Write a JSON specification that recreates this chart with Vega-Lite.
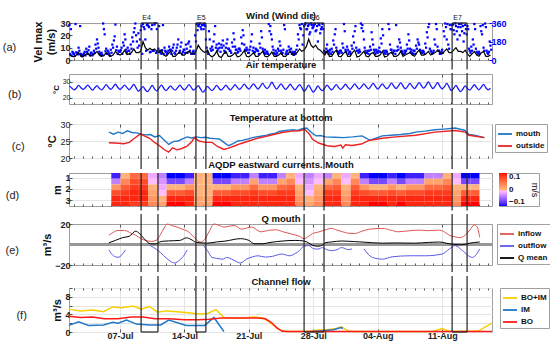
{
"$schema":"https://vega.github.io/schema/vega-lite/v6.json",
"padding":{"left":2,"top":10,"right":2,"bottom":2},
"spacing":0,
"config":{"font":"Liberation Sans","view":{"stroke":"#9e9e9e"},
"axis":{"domain":false,"tickSize":-3,"tickColor":"#555555","labelFontSize":9,"labelFontWeight":"bold","labelColor":"#222222","labelPadding":2,"titleFontSize":10,"titleFontWeight":"bold","titleColor":"#111111","titlePadding":2,"gridColor":"#e4e4e4"},
"legend":{"labelFontSize":8,"labelFontWeight":"bold","labelColor":"#111111","symbolType":"stroke","symbolSize":196,"symbolStrokeWidth":1.8,"strokeColor":"#a0a0a0","padding":2,"rowPadding":-8,"labelOffset":3}},
"datasets":{
"ev":[{"s":"2019-07-09T07:00","e":"2019-07-11T03:00","lab":"E4","lt":"2019-07-09T10:00"},{"s":"2019-07-15T06:00","e":"2019-07-16T08:00","lab":"E5","lt":"2019-07-15T09:00"},{"s":"2019-07-27T00:00","e":"2019-07-29T04:00","lab":"E6","lt":"2019-07-27T18:00"},{"s":"2019-08-12T02:00","e":"2019-08-13T17:00","lab":"E7","lt":"2019-08-12T05:00"}],
"wind":[{"t":"2019-07-01T12:00","v":4},{"t":"2019-07-01T18:00","v":3},
{"t":"2019-07-02T00:00","v":2.5},{"t":"2019-07-02T06:00","v":4},{"t":"2019-07-02T12:00","v":6},{"t":"2019-07-02T18:00","v":3},
{"t":"2019-07-03T00:00","v":3},{"t":"2019-07-03T06:00","v":4.5},{"t":"2019-07-03T12:00","v":5.5},{"t":"2019-07-03T18:00","v":3},
{"t":"2019-07-04T00:00","v":4},{"t":"2019-07-04T06:00","v":5},{"t":"2019-07-04T12:00","v":7},{"t":"2019-07-04T18:00","v":4},
{"t":"2019-07-05T00:00","v":3},{"t":"2019-07-05T06:00","v":3.5},{"t":"2019-07-05T12:00","v":6},{"t":"2019-07-05T18:00","v":4},
{"t":"2019-07-06T00:00","v":3},{"t":"2019-07-06T06:00","v":4},{"t":"2019-07-06T12:00","v":7},{"t":"2019-07-06T18:00","v":5},
{"t":"2019-07-07T00:00","v":4},{"t":"2019-07-07T06:00","v":5},{"t":"2019-07-07T12:00","v":8},{"t":"2019-07-07T18:00","v":4.5},
{"t":"2019-07-08T00:00","v":5},{"t":"2019-07-08T06:00","v":6},{"t":"2019-07-08T12:00","v":9},{"t":"2019-07-08T18:00","v":6},
{"t":"2019-07-09T00:00","v":6},{"t":"2019-07-09T06:00","v":7},{"t":"2019-07-09T12:00","v":15},{"t":"2019-07-09T18:00","v":10},
{"t":"2019-07-10T00:00","v":8},{"t":"2019-07-10T06:00","v":9.5},{"t":"2019-07-10T12:00","v":8},{"t":"2019-07-10T18:00","v":9},
{"t":"2019-07-11T00:00","v":7},{"t":"2019-07-11T06:00","v":6},{"t":"2019-07-11T12:00","v":8},{"t":"2019-07-11T18:00","v":4},
{"t":"2019-07-12T00:00","v":3},{"t":"2019-07-12T06:00","v":5},{"t":"2019-07-12T12:00","v":7},{"t":"2019-07-12T18:00","v":3},
{"t":"2019-07-13T00:00","v":3},{"t":"2019-07-13T06:00","v":5},{"t":"2019-07-13T12:00","v":6.5},{"t":"2019-07-13T18:00","v":4},
{"t":"2019-07-14T00:00","v":4},{"t":"2019-07-14T06:00","v":6},{"t":"2019-07-14T12:00","v":7},{"t":"2019-07-14T18:00","v":5},
{"t":"2019-07-15T00:00","v":5},{"t":"2019-07-15T06:00","v":7},{"t":"2019-07-15T12:00","v":12},{"t":"2019-07-15T18:00","v":9},
{"t":"2019-07-16T00:00","v":7},{"t":"2019-07-16T06:00","v":6},{"t":"2019-07-16T12:00","v":8},{"t":"2019-07-16T18:00","v":4},
{"t":"2019-07-17T00:00","v":2.5},{"t":"2019-07-17T06:00","v":4},{"t":"2019-07-17T12:00","v":7},{"t":"2019-07-17T18:00","v":3},
{"t":"2019-07-18T00:00","v":2},{"t":"2019-07-18T06:00","v":5},{"t":"2019-07-18T12:00","v":7},{"t":"2019-07-18T18:00","v":3},
{"t":"2019-07-19T00:00","v":3},{"t":"2019-07-19T06:00","v":4},{"t":"2019-07-19T12:00","v":6},{"t":"2019-07-19T18:00","v":2.5},
{"t":"2019-07-20T00:00","v":3},{"t":"2019-07-20T06:00","v":5},{"t":"2019-07-20T12:00","v":7.5},{"t":"2019-07-20T18:00","v":3},
{"t":"2019-07-21T00:00","v":2.5},{"t":"2019-07-21T06:00","v":4},{"t":"2019-07-21T12:00","v":6},{"t":"2019-07-21T18:00","v":3},
{"t":"2019-07-22T00:00","v":3},{"t":"2019-07-22T06:00","v":5},{"t":"2019-07-22T12:00","v":7},{"t":"2019-07-22T18:00","v":3},
{"t":"2019-07-23T00:00","v":2.5},{"t":"2019-07-23T06:00","v":4},{"t":"2019-07-23T12:00","v":6.5},{"t":"2019-07-23T18:00","v":3},
{"t":"2019-07-24T00:00","v":3},{"t":"2019-07-24T06:00","v":4},{"t":"2019-07-24T12:00","v":6},{"t":"2019-07-24T18:00","v":3},
{"t":"2019-07-25T00:00","v":3},{"t":"2019-07-25T06:00","v":5},{"t":"2019-07-25T12:00","v":7},{"t":"2019-07-25T18:00","v":4},
{"t":"2019-07-26T00:00","v":5},{"t":"2019-07-26T06:00","v":6},{"t":"2019-07-26T12:00","v":9},{"t":"2019-07-26T18:00","v":7},
{"t":"2019-07-27T00:00","v":8},{"t":"2019-07-27T06:00","v":11},{"t":"2019-07-27T12:00","v":17},{"t":"2019-07-27T18:00","v":12},
{"t":"2019-07-28T00:00","v":10},{"t":"2019-07-28T06:00","v":12},{"t":"2019-07-28T12:00","v":9},{"t":"2019-07-28T18:00","v":8},
{"t":"2019-07-29T00:00","v":6},{"t":"2019-07-29T06:00","v":4},{"t":"2019-07-29T12:00","v":7},{"t":"2019-07-29T18:00","v":3},
{"t":"2019-07-30T00:00","v":3},{"t":"2019-07-30T06:00","v":6},{"t":"2019-07-30T12:00","v":8},{"t":"2019-07-30T18:00","v":3},
{"t":"2019-07-31T00:00","v":2.5},{"t":"2019-07-31T06:00","v":5},{"t":"2019-07-31T12:00","v":7},{"t":"2019-07-31T18:00","v":3},
{"t":"2019-08-01T00:00","v":3},{"t":"2019-08-01T06:00","v":6},{"t":"2019-08-01T12:00","v":8},{"t":"2019-08-01T18:00","v":2.5},
{"t":"2019-08-02T00:00","v":3},{"t":"2019-08-02T06:00","v":5},{"t":"2019-08-02T12:00","v":7},{"t":"2019-08-02T18:00","v":3},
{"t":"2019-08-03T00:00","v":2.5},{"t":"2019-08-03T06:00","v":5},{"t":"2019-08-03T12:00","v":6},{"t":"2019-08-03T18:00","v":3},
{"t":"2019-08-04T00:00","v":3},{"t":"2019-08-04T06:00","v":4},{"t":"2019-08-04T12:00","v":7},{"t":"2019-08-04T18:00","v":2.5},
{"t":"2019-08-05T00:00","v":3},{"t":"2019-08-05T06:00","v":5},{"t":"2019-08-05T12:00","v":6.5},{"t":"2019-08-05T18:00","v":3},
{"t":"2019-08-06T00:00","v":3},{"t":"2019-08-06T06:00","v":4},{"t":"2019-08-06T12:00","v":7},{"t":"2019-08-06T18:00","v":3},
{"t":"2019-08-07T00:00","v":4},{"t":"2019-08-07T06:00","v":5},{"t":"2019-08-07T12:00","v":6},{"t":"2019-08-07T18:00","v":4},
{"t":"2019-08-08T00:00","v":3},{"t":"2019-08-08T06:00","v":6},{"t":"2019-08-08T12:00","v":8},{"t":"2019-08-08T18:00","v":4},
{"t":"2019-08-09T00:00","v":4},{"t":"2019-08-09T06:00","v":5},{"t":"2019-08-09T12:00","v":7},{"t":"2019-08-09T18:00","v":4},
{"t":"2019-08-10T00:00","v":5},{"t":"2019-08-10T06:00","v":6},{"t":"2019-08-10T12:00","v":8},{"t":"2019-08-10T18:00","v":6},
{"t":"2019-08-11T00:00","v":5},{"t":"2019-08-11T06:00","v":7},{"t":"2019-08-11T12:00","v":9},{"t":"2019-08-11T18:00","v":6},
{"t":"2019-08-12T00:00","v":6},{"t":"2019-08-12T06:00","v":8},{"t":"2019-08-12T12:00","v":10},{"t":"2019-08-12T18:00","v":7},
{"t":"2019-08-13T00:00","v":7},{"t":"2019-08-13T06:00","v":6},{"t":"2019-08-13T12:00","v":8},{"t":"2019-08-13T18:00","v":5},
{"t":"2019-08-14T00:00","v":3},{"t":"2019-08-14T06:00","v":5},{"t":"2019-08-14T12:00","v":7},{"t":"2019-08-14T18:00","v":4},
{"t":"2019-08-15T00:00","v":3},{"t":"2019-08-15T06:00","v":6},{"t":"2019-08-15T12:00","v":7},{"t":"2019-08-15T18:00","v":3},
{"t":"2019-08-16T00:00","v":3},{"t":"2019-08-16T06:00","v":4}],
"dir":[{"t":"2019-07-01T12:00","d":340},{"t":"2019-07-01T16:00","d":300},{"t":"2019-07-01T20:00","d":80},
{"t":"2019-07-02T00:00","d":60},{"t":"2019-07-02T04:00","d":350},{"t":"2019-07-02T08:00","d":70},{"t":"2019-07-02T12:00","d":120},{"t":"2019-07-02T16:00","d":330},{"t":"2019-07-02T20:00","d":50},
{"t":"2019-07-03T00:00","d":50},{"t":"2019-07-03T04:00","d":80},{"t":"2019-07-03T08:00","d":110},{"t":"2019-07-03T12:00","d":60},{"t":"2019-07-03T16:00","d":130},{"t":"2019-07-03T20:00","d":70},
{"t":"2019-07-04T00:00","d":45},{"t":"2019-07-04T04:00","d":90},{"t":"2019-07-04T08:00","d":150},{"t":"2019-07-04T12:00","d":200},{"t":"2019-07-04T16:00","d":120},{"t":"2019-07-04T20:00","d":60},
{"t":"2019-07-05T00:00","d":70},{"t":"2019-07-05T04:00","d":355},{"t":"2019-07-05T08:00","d":250},{"t":"2019-07-05T12:00","d":110},{"t":"2019-07-05T16:00","d":90},{"t":"2019-07-05T20:00","d":60},
{"t":"2019-07-06T00:00","d":100},{"t":"2019-07-06T04:00","d":150},{"t":"2019-07-06T08:00","d":190},{"t":"2019-07-06T12:00","d":345},{"t":"2019-07-06T16:00","d":130},{"t":"2019-07-06T20:00","d":90},
{"t":"2019-07-07T00:00","d":80},{"t":"2019-07-07T04:00","d":120},{"t":"2019-07-07T08:00","d":170},{"t":"2019-07-07T12:00","d":250},{"t":"2019-07-07T16:00","d":100},{"t":"2019-07-07T20:00","d":120},
{"t":"2019-07-08T00:00","d":90},{"t":"2019-07-08T04:00","d":150},{"t":"2019-07-08T08:00","d":220},{"t":"2019-07-08T12:00","d":270},{"t":"2019-07-08T16:00","d":355},{"t":"2019-07-08T20:00","d":180},
{"t":"2019-07-09T00:00","d":260},{"t":"2019-07-09T04:00","d":200},{"t":"2019-07-09T08:00","d":330},{"t":"2019-07-09T12:00","d":350},{"t":"2019-07-09T16:00","d":300},{"t":"2019-07-09T20:00","d":90},
{"t":"2019-07-10T00:00","d":350},{"t":"2019-07-10T04:00","d":320},{"t":"2019-07-10T08:00","d":80},{"t":"2019-07-10T12:00","d":340},{"t":"2019-07-10T16:00","d":90},{"t":"2019-07-10T20:00","d":358},
{"t":"2019-07-11T00:00","d":300},{"t":"2019-07-11T04:00","d":110},{"t":"2019-07-11T08:00","d":90},{"t":"2019-07-11T12:00","d":60},{"t":"2019-07-11T16:00","d":340},{"t":"2019-07-11T20:00","d":120},
{"t":"2019-07-12T00:00","d":80},{"t":"2019-07-12T04:00","d":70},{"t":"2019-07-12T08:00","d":130},{"t":"2019-07-12T12:00","d":100},{"t":"2019-07-12T16:00","d":90},{"t":"2019-07-12T20:00","d":150},
{"t":"2019-07-13T00:00","d":60},{"t":"2019-07-13T04:00","d":120},{"t":"2019-07-13T08:00","d":200},{"t":"2019-07-13T12:00","d":90},{"t":"2019-07-13T16:00","d":170},{"t":"2019-07-13T20:00","d":80},
{"t":"2019-07-14T00:00","d":100},{"t":"2019-07-14T04:00","d":150},{"t":"2019-07-14T08:00","d":70},{"t":"2019-07-14T12:00","d":180},{"t":"2019-07-14T16:00","d":130},{"t":"2019-07-14T20:00","d":60},
{"t":"2019-07-15T00:00","d":90},{"t":"2019-07-15T04:00","d":240},{"t":"2019-07-15T08:00","d":350},{"t":"2019-07-15T12:00","d":330},{"t":"2019-07-15T16:00","d":355},{"t":"2019-07-15T20:00","d":300},
{"t":"2019-07-16T00:00","d":340},{"t":"2019-07-16T04:00","d":350},{"t":"2019-07-16T08:00","d":200},{"t":"2019-07-16T12:00","d":80},{"t":"2019-07-16T16:00","d":280},{"t":"2019-07-16T20:00","d":110},
{"t":"2019-07-17T00:00","d":130},{"t":"2019-07-17T04:00","d":180},{"t":"2019-07-17T08:00","d":330},{"t":"2019-07-17T12:00","d":150},{"t":"2019-07-17T16:00","d":110},{"t":"2019-07-17T20:00","d":120},
{"t":"2019-07-18T00:00","d":150},{"t":"2019-07-18T04:00","d":190},{"t":"2019-07-18T08:00","d":90},{"t":"2019-07-18T12:00","d":120},{"t":"2019-07-18T16:00","d":200},{"t":"2019-07-18T20:00","d":110},
{"t":"2019-07-19T00:00","d":90},{"t":"2019-07-19T04:00","d":170},{"t":"2019-07-19T08:00","d":260},{"t":"2019-07-19T12:00","d":130},{"t":"2019-07-19T16:00","d":100},{"t":"2019-07-19T20:00","d":80},
{"t":"2019-07-20T00:00","d":110},{"t":"2019-07-20T04:00","d":220},{"t":"2019-07-20T08:00","d":290},{"t":"2019-07-20T12:00","d":150},{"t":"2019-07-20T16:00","d":90},{"t":"2019-07-20T20:00","d":100},
{"t":"2019-07-21T00:00","d":70},{"t":"2019-07-21T04:00","d":130},{"t":"2019-07-21T08:00","d":250},{"t":"2019-07-21T12:00","d":120},{"t":"2019-07-21T16:00","d":80},{"t":"2019-07-21T20:00","d":100},
{"t":"2019-07-22T00:00","d":90},{"t":"2019-07-22T04:00","d":160},{"t":"2019-07-22T08:00","d":280},{"t":"2019-07-22T12:00","d":110},{"t":"2019-07-22T16:00","d":70},{"t":"2019-07-22T20:00","d":60},
{"t":"2019-07-23T00:00","d":80},{"t":"2019-07-23T04:00","d":350},{"t":"2019-07-23T08:00","d":330},{"t":"2019-07-23T12:00","d":200},{"t":"2019-07-23T16:00","d":100},{"t":"2019-07-23T20:00","d":60},
{"t":"2019-07-24T00:00","d":50},{"t":"2019-07-24T04:00","d":110},{"t":"2019-07-24T08:00","d":180},{"t":"2019-07-24T12:00","d":90},{"t":"2019-07-24T16:00","d":70},{"t":"2019-07-24T20:00","d":340},
{"t":"2019-07-25T00:00","d":60},{"t":"2019-07-25T04:00","d":90},{"t":"2019-07-25T08:00","d":130},{"t":"2019-07-25T12:00","d":80},{"t":"2019-07-25T16:00","d":60},{"t":"2019-07-25T20:00","d":70},
{"t":"2019-07-26T00:00","d":80},{"t":"2019-07-26T04:00","d":100},{"t":"2019-07-26T08:00","d":250},{"t":"2019-07-26T12:00","d":340},{"t":"2019-07-26T16:00","d":300},{"t":"2019-07-26T20:00","d":150},
{"t":"2019-07-27T00:00","d":330},{"t":"2019-07-27T04:00","d":355},{"t":"2019-07-27T08:00","d":300},{"t":"2019-07-27T12:00","d":345},{"t":"2019-07-27T16:00","d":270},{"t":"2019-07-27T20:00","d":340},
{"t":"2019-07-28T00:00","d":320},{"t":"2019-07-28T04:00","d":350},{"t":"2019-07-28T08:00","d":290},{"t":"2019-07-28T12:00","d":180},{"t":"2019-07-28T16:00","d":340},{"t":"2019-07-28T20:00","d":300},
{"t":"2019-07-29T00:00","d":350},{"t":"2019-07-29T04:00","d":90},{"t":"2019-07-29T08:00","d":80},{"t":"2019-07-29T12:00","d":150},{"t":"2019-07-29T16:00","d":60},{"t":"2019-07-29T20:00","d":100},
{"t":"2019-07-30T00:00","d":110},{"t":"2019-07-30T04:00","d":190},{"t":"2019-07-30T08:00","d":250},{"t":"2019-07-30T12:00","d":120},{"t":"2019-07-30T16:00","d":80},{"t":"2019-07-30T20:00","d":70},
{"t":"2019-07-31T00:00","d":90},{"t":"2019-07-31T04:00","d":160},{"t":"2019-07-31T08:00","d":350},{"t":"2019-07-31T12:00","d":100},{"t":"2019-07-31T16:00","d":130},{"t":"2019-07-31T20:00","d":60},
{"t":"2019-08-01T00:00","d":80},{"t":"2019-08-01T04:00","d":140},{"t":"2019-08-01T08:00","d":230},{"t":"2019-08-01T12:00","d":280},{"t":"2019-08-01T16:00","d":120},{"t":"2019-08-01T20:00","d":90},
{"t":"2019-08-02T00:00","d":100},{"t":"2019-08-02T04:00","d":355},{"t":"2019-08-02T08:00","d":340},{"t":"2019-08-02T12:00","d":200},{"t":"2019-08-02T16:00","d":90},{"t":"2019-08-02T20:00","d":70},
{"t":"2019-08-03T00:00","d":60},{"t":"2019-08-03T04:00","d":130},{"t":"2019-08-03T08:00","d":270},{"t":"2019-08-03T12:00","d":150},{"t":"2019-08-03T16:00","d":80},{"t":"2019-08-03T20:00","d":100},
{"t":"2019-08-04T00:00","d":70},{"t":"2019-08-04T04:00","d":120},{"t":"2019-08-04T08:00","d":210},{"t":"2019-08-04T12:00","d":300},{"t":"2019-08-04T16:00","d":90},{"t":"2019-08-04T20:00","d":60},
{"t":"2019-08-05T00:00","d":80},{"t":"2019-08-05T04:00","d":350},{"t":"2019-08-05T08:00","d":150},{"t":"2019-08-05T12:00","d":100},{"t":"2019-08-05T16:00","d":70},{"t":"2019-08-05T20:00","d":90},
{"t":"2019-08-06T00:00","d":340},{"t":"2019-08-06T04:00","d":130},{"t":"2019-08-06T08:00","d":200},{"t":"2019-08-06T12:00","d":120},{"t":"2019-08-06T16:00","d":80},{"t":"2019-08-06T20:00","d":60},
{"t":"2019-08-07T00:00","d":70},{"t":"2019-08-07T04:00","d":150},{"t":"2019-08-07T08:00","d":250},{"t":"2019-08-07T12:00","d":110},{"t":"2019-08-07T16:00","d":100},{"t":"2019-08-07T20:00","d":60},
{"t":"2019-08-08T00:00","d":90},{"t":"2019-08-08T04:00","d":140},{"t":"2019-08-08T08:00","d":200},{"t":"2019-08-08T12:00","d":150},{"t":"2019-08-08T16:00","d":90},{"t":"2019-08-08T20:00","d":70},
{"t":"2019-08-09T00:00","d":80},{"t":"2019-08-09T04:00","d":160},{"t":"2019-08-09T08:00","d":270},{"t":"2019-08-09T12:00","d":320},{"t":"2019-08-09T16:00","d":110},{"t":"2019-08-09T20:00","d":80},
{"t":"2019-08-10T00:00","d":70},{"t":"2019-08-10T04:00","d":200},{"t":"2019-08-10T08:00","d":350},{"t":"2019-08-10T12:00","d":130},{"t":"2019-08-10T16:00","d":90},{"t":"2019-08-10T20:00","d":60},
{"t":"2019-08-11T00:00","d":100},{"t":"2019-08-11T04:00","d":280},{"t":"2019-08-11T08:00","d":355},{"t":"2019-08-11T12:00","d":200},{"t":"2019-08-11T16:00","d":150},{"t":"2019-08-11T20:00","d":340},
{"t":"2019-08-12T00:00","d":300},{"t":"2019-08-12T04:00","d":345},{"t":"2019-08-12T08:00","d":250},{"t":"2019-08-12T12:00","d":330},{"t":"2019-08-12T16:00","d":200},{"t":"2019-08-12T20:00","d":350},
{"t":"2019-08-13T00:00","d":320},{"t":"2019-08-13T04:00","d":280},{"t":"2019-08-13T08:00","d":180},{"t":"2019-08-13T12:00","d":340},{"t":"2019-08-13T16:00","d":250},{"t":"2019-08-13T20:00","d":300},
{"t":"2019-08-14T00:00","d":90},{"t":"2019-08-14T04:00","d":130},{"t":"2019-08-14T08:00","d":200},{"t":"2019-08-14T12:00","d":350},{"t":"2019-08-14T16:00","d":110},{"t":"2019-08-14T20:00","d":70},
{"t":"2019-08-15T00:00","d":80},{"t":"2019-08-15T04:00","d":330},{"t":"2019-08-15T08:00","d":250},{"t":"2019-08-15T12:00","d":120},{"t":"2019-08-15T16:00","d":355},{"t":"2019-08-15T20:00","d":90},
{"t":"2019-08-16T00:00","d":60},{"t":"2019-08-16T04:00","d":180},{"t":"2019-08-16T08:00","d":100},
{"t":"2019-07-01T14:00","d":60},{"t":"2019-07-01T18:00","d":45},{"t":"2019-07-01T22:00","d":70},
{"t":"2019-07-02T02:00","d":40},{"t":"2019-07-02T06:00","d":75},{"t":"2019-07-02T10:00","d":55},{"t":"2019-07-02T14:00","d":90},{"t":"2019-07-02T18:00","d":60},{"t":"2019-07-02T22:00","d":35},
{"t":"2019-07-03T02:00","d":65},{"t":"2019-07-03T06:00","d":45},{"t":"2019-07-03T10:00","d":80},{"t":"2019-07-03T14:00","d":95},{"t":"2019-07-03T18:00","d":50},{"t":"2019-07-03T22:00","d":70},
{"t":"2019-07-04T02:00","d":55},{"t":"2019-07-04T06:00","d":70},{"t":"2019-07-04T10:00","d":110},{"t":"2019-07-04T14:00","d":160},{"t":"2019-07-04T18:00","d":80},{"t":"2019-07-04T22:00","d":45},
{"t":"2019-07-05T02:00","d":50},{"t":"2019-07-05T06:00","d":300},{"t":"2019-07-05T10:00","d":85},{"t":"2019-07-05T14:00","d":60},{"t":"2019-07-05T18:00","d":75},{"t":"2019-07-05T22:00","d":40},
{"t":"2019-07-06T02:00","d":70},{"t":"2019-07-06T06:00","d":120},{"t":"2019-07-06T10:00","d":230},{"t":"2019-07-06T14:00","d":95},{"t":"2019-07-06T18:00","d":60},{"t":"2019-07-06T22:00","d":80},
{"t":"2019-07-07T02:00","d":95},{"t":"2019-07-07T06:00","d":60},{"t":"2019-07-07T10:00","d":140},{"t":"2019-07-07T14:00","d":200},{"t":"2019-07-07T18:00","d":75},{"t":"2019-07-07T22:00","d":90},
{"t":"2019-07-08T02:00","d":60},{"t":"2019-07-08T06:00","d":110},{"t":"2019-07-08T10:00","d":180},{"t":"2019-07-08T14:00","d":310},{"t":"2019-07-08T18:00","d":240},{"t":"2019-07-08T22:00","d":120},
{"t":"2019-07-09T02:00","d":140},{"t":"2019-07-09T06:00","d":290},{"t":"2019-07-09T10:00","d":60},{"t":"2019-07-09T14:00","d":320},{"t":"2019-07-09T18:00","d":200},{"t":"2019-07-09T22:00","d":340},
{"t":"2019-07-10T02:00","d":330},{"t":"2019-07-10T06:00","d":75},{"t":"2019-07-10T10:00","d":300},{"t":"2019-07-10T14:00","d":90},{"t":"2019-07-10T18:00","d":345},{"t":"2019-07-10T22:00","d":70},
{"t":"2019-07-11T02:00","d":85},{"t":"2019-07-11T06:00","d":330},{"t":"2019-07-11T10:00","d":70},{"t":"2019-07-11T14:00","d":95},{"t":"2019-07-11T18:00","d":60},{"t":"2019-07-11T22:00","d":90},
{"t":"2019-07-12T02:00","d":55},{"t":"2019-07-12T06:00","d":90},{"t":"2019-07-12T10:00","d":100},{"t":"2019-07-12T14:00","d":60},{"t":"2019-07-12T18:00","d":120},{"t":"2019-07-12T22:00","d":70},
{"t":"2019-07-13T02:00","d":90},{"t":"2019-07-13T06:00","d":150},{"t":"2019-07-13T10:00","d":70},{"t":"2019-07-13T14:00","d":130},{"t":"2019-07-13T18:00","d":60},{"t":"2019-07-13T22:00","d":100},
{"t":"2019-07-14T02:00","d":70},{"t":"2019-07-14T06:00","d":110},{"t":"2019-07-14T10:00","d":160},{"t":"2019-07-14T14:00","d":90},{"t":"2019-07-14T18:00","d":60},{"t":"2019-07-14T22:00","d":80},
{"t":"2019-07-15T02:00","d":60},{"t":"2019-07-15T06:00","d":180},{"t":"2019-07-15T10:00","d":290},{"t":"2019-07-15T14:00","d":345},{"t":"2019-07-15T18:00","d":320},{"t":"2019-07-15T22:00","d":340},
{"t":"2019-07-16T02:00","d":300},{"t":"2019-07-16T06:00","d":330},{"t":"2019-07-16T10:00","d":120},{"t":"2019-07-16T14:00","d":60},{"t":"2019-07-16T18:00","d":200},{"t":"2019-07-16T22:00","d":90},
{"t":"2019-07-17T02:00","d":100},{"t":"2019-07-17T06:00","d":250},{"t":"2019-07-17T10:00","d":120},{"t":"2019-07-17T14:00","d":90},{"t":"2019-07-17T18:00","d":160},{"t":"2019-07-17T22:00","d":80},
{"t":"2019-07-18T02:00","d":120},{"t":"2019-07-18T06:00","d":140},{"t":"2019-07-18T10:00","d":70},{"t":"2019-07-18T14:00","d":160},{"t":"2019-07-18T18:00","d":110},{"t":"2019-07-18T22:00","d":90},
{"t":"2019-07-19T02:00","d":70},{"t":"2019-07-19T06:00","d":130},{"t":"2019-07-19T10:00","d":200},{"t":"2019-07-19T14:00","d":100},{"t":"2019-07-19T18:00","d":70},{"t":"2019-07-19T22:00","d":110},
{"t":"2019-07-20T02:00","d":90},{"t":"2019-07-20T06:00","d":160},{"t":"2019-07-20T10:00","d":240},{"t":"2019-07-20T14:00","d":100},{"t":"2019-07-20T18:00","d":120},{"t":"2019-07-20T22:00","d":70},
{"t":"2019-07-21T02:00","d":100},{"t":"2019-07-21T06:00","d":180},{"t":"2019-07-21T10:00","d":90},{"t":"2019-07-21T14:00","d":70},{"t":"2019-07-21T18:00","d":110},{"t":"2019-07-21T22:00","d":90},
{"t":"2019-07-22T02:00","d":60},{"t":"2019-07-22T06:00","d":120},{"t":"2019-07-22T10:00","d":220},{"t":"2019-07-22T14:00","d":90},{"t":"2019-07-22T18:00","d":100},{"t":"2019-07-22T22:00","d":80},
{"t":"2019-07-23T02:00","d":60},{"t":"2019-07-23T06:00","d":280},{"t":"2019-07-23T10:00","d":250},{"t":"2019-07-23T14:00","d":130},{"t":"2019-07-23T18:00","d":70},{"t":"2019-07-23T22:00","d":90},
{"t":"2019-07-24T02:00","d":70},{"t":"2019-07-24T06:00","d":90},{"t":"2019-07-24T10:00","d":140},{"t":"2019-07-24T14:00","d":60},{"t":"2019-07-24T18:00","d":100},{"t":"2019-07-24T22:00","d":300},
{"t":"2019-07-25T02:00","d":80},{"t":"2019-07-25T06:00","d":60},{"t":"2019-07-25T10:00","d":100},{"t":"2019-07-25T14:00","d":110},{"t":"2019-07-25T18:00","d":80},{"t":"2019-07-25T22:00","d":50},
{"t":"2019-07-26T02:00","d":60},{"t":"2019-07-26T06:00","d":140},{"t":"2019-07-26T10:00","d":200},{"t":"2019-07-26T14:00","d":310},{"t":"2019-07-26T18:00","d":350},{"t":"2019-07-26T22:00","d":240},
{"t":"2019-07-27T02:00","d":345},{"t":"2019-07-27T06:00","d":300},{"t":"2019-07-27T10:00","d":330},{"t":"2019-07-27T14:00","d":250},{"t":"2019-07-27T18:00","d":355},{"t":"2019-07-27T22:00","d":310},
{"t":"2019-07-28T02:00","d":340},{"t":"2019-07-28T06:00","d":280},{"t":"2019-07-28T10:00","d":330},{"t":"2019-07-28T14:00","d":350},{"t":"2019-07-28T18:00","d":260},{"t":"2019-07-28T22:00","d":320},
{"t":"2019-07-29T02:00","d":300},{"t":"2019-07-29T06:00","d":70},{"t":"2019-07-29T10:00","d":110},{"t":"2019-07-29T14:00","d":90},{"t":"2019-07-29T18:00","d":80},{"t":"2019-07-29T22:00","d":60},
{"t":"2019-07-30T02:00","d":80},{"t":"2019-07-30T06:00","d":150},{"t":"2019-07-30T10:00","d":300},{"t":"2019-07-30T14:00","d":90},{"t":"2019-07-30T18:00","d":60},{"t":"2019-07-30T22:00","d":90},
{"t":"2019-07-31T02:00","d":70},{"t":"2019-07-31T06:00","d":120},{"t":"2019-07-31T10:00","d":280},{"t":"2019-07-31T14:00","d":80},{"t":"2019-07-31T18:00","d":100},{"t":"2019-07-31T22:00","d":80},
{"t":"2019-08-01T02:00","d":60},{"t":"2019-08-01T06:00","d":110},{"t":"2019-08-01T10:00","d":170},{"t":"2019-08-01T14:00","d":330},{"t":"2019-08-01T18:00","d":90},{"t":"2019-08-01T22:00","d":70},
{"t":"2019-08-02T02:00","d":80},{"t":"2019-08-02T06:00","d":310},{"t":"2019-08-02T10:00","d":280},{"t":"2019-08-02T14:00","d":120},{"t":"2019-08-02T18:00","d":70},{"t":"2019-08-02T22:00","d":90},
{"t":"2019-08-03T02:00","d":90},{"t":"2019-08-03T06:00","d":100},{"t":"2019-08-03T10:00","d":200},{"t":"2019-08-03T14:00","d":100},{"t":"2019-08-03T18:00","d":60},{"t":"2019-08-03T22:00","d":80},
{"t":"2019-08-04T02:00","d":90},{"t":"2019-08-04T06:00","d":80},{"t":"2019-08-04T10:00","d":160},{"t":"2019-08-04T14:00","d":240},{"t":"2019-08-04T18:00","d":70},{"t":"2019-08-04T22:00","d":90},
{"t":"2019-08-05T02:00","d":60},{"t":"2019-08-05T06:00","d":300},{"t":"2019-08-05T10:00","d":100},{"t":"2019-08-05T14:00","d":70},{"t":"2019-08-05T18:00","d":90},{"t":"2019-08-05T22:00","d":60},
{"t":"2019-08-06T02:00","d":90},{"t":"2019-08-06T06:00","d":100},{"t":"2019-08-06T10:00","d":170},{"t":"2019-08-06T14:00","d":90},{"t":"2019-08-06T18:00","d":60},{"t":"2019-08-06T22:00","d":90},
{"t":"2019-08-07T02:00","d":90},{"t":"2019-08-07T06:00","d":110},{"t":"2019-08-07T10:00","d":190},{"t":"2019-08-07T14:00","d":80},{"t":"2019-08-07T18:00","d":70},{"t":"2019-08-07T22:00","d":90},
{"t":"2019-08-08T02:00","d":60},{"t":"2019-08-08T06:00","d":110},{"t":"2019-08-08T10:00","d":170},{"t":"2019-08-08T14:00","d":100},{"t":"2019-08-08T18:00","d":70},{"t":"2019-08-08T22:00","d":90},
{"t":"2019-08-09T02:00","d":60},{"t":"2019-08-09T06:00","d":120},{"t":"2019-08-09T10:00","d":220},{"t":"2019-08-09T14:00","d":350},{"t":"2019-08-09T18:00","d":90},{"t":"2019-08-09T22:00","d":60},
{"t":"2019-08-10T02:00","d":90},{"t":"2019-08-10T06:00","d":150},{"t":"2019-08-10T10:00","d":300},{"t":"2019-08-10T14:00","d":90},{"t":"2019-08-10T18:00","d":60},{"t":"2019-08-10T22:00","d":80},
{"t":"2019-08-11T02:00","d":70},{"t":"2019-08-11T06:00","d":230},{"t":"2019-08-11T10:00","d":320},{"t":"2019-08-11T14:00","d":350},{"t":"2019-08-11T18:00","d":110},{"t":"2019-08-11T22:00","d":300},
{"t":"2019-08-12T02:00","d":340},{"t":"2019-08-12T06:00","d":290},{"t":"2019-08-12T10:00","d":355},{"t":"2019-08-12T14:00","d":280},{"t":"2019-08-12T18:00","d":320},{"t":"2019-08-12T22:00","d":240},
{"t":"2019-08-13T02:00","d":350},{"t":"2019-08-13T06:00","d":330},{"t":"2019-08-13T10:00","d":260},{"t":"2019-08-13T14:00","d":300},{"t":"2019-08-13T18:00","d":330},{"t":"2019-08-13T22:00","d":110},
{"t":"2019-08-14T02:00","d":70},{"t":"2019-08-14T06:00","d":90},{"t":"2019-08-14T10:00","d":150},{"t":"2019-08-14T14:00","d":300},{"t":"2019-08-14T18:00","d":80},{"t":"2019-08-14T22:00","d":60},
{"t":"2019-08-15T02:00","d":60},{"t":"2019-08-15T06:00","d":280},{"t":"2019-08-15T10:00","d":340},{"t":"2019-08-15T14:00","d":90},{"t":"2019-08-15T18:00","d":320},{"t":"2019-08-15T22:00","d":70},
{"t":"2019-08-16T02:00","d":80},{"t":"2019-08-16T06:00","d":140}],
"air":[{"t":"2019-07-01T12:00","a":27.5},{"t":"2019-07-01T18:00","a":26.2},
{"t":"2019-07-02T00:00","a":25.0},{"t":"2019-07-02T06:00","a":26.0},{"t":"2019-07-02T12:00","a":27.8},{"t":"2019-07-02T18:00","a":26.3},
{"t":"2019-07-03T00:00","a":25.2},{"t":"2019-07-03T06:00","a":26.5},{"t":"2019-07-03T12:00","a":28.0},{"t":"2019-07-03T18:00","a":26.4},
{"t":"2019-07-04T00:00","a":24.8},{"t":"2019-07-04T06:00","a":26.2},{"t":"2019-07-04T12:00","a":27.6},{"t":"2019-07-04T18:00","a":26.0},
{"t":"2019-07-05T00:00","a":25.0},{"t":"2019-07-05T06:00","a":26.4},{"t":"2019-07-05T12:00","a":28.3},{"t":"2019-07-05T18:00","a":26.5},
{"t":"2019-07-06T00:00","a":25.3},{"t":"2019-07-06T06:00","a":26.8},{"t":"2019-07-06T12:00","a":28.5},{"t":"2019-07-06T18:00","a":26.6},
{"t":"2019-07-07T00:00","a":25.2},{"t":"2019-07-07T06:00","a":26.5},{"t":"2019-07-07T12:00","a":28.0},{"t":"2019-07-07T18:00","a":26.4},
{"t":"2019-07-08T00:00","a":25.0},{"t":"2019-07-08T06:00","a":26.6},{"t":"2019-07-08T12:00","a":28.4},{"t":"2019-07-08T18:00","a":26.2},
{"t":"2019-07-09T00:00","a":24.0},{"t":"2019-07-09T06:00","a":25.5},{"t":"2019-07-09T12:00","a":27.0},{"t":"2019-07-09T18:00","a":25.0},
{"t":"2019-07-10T00:00","a":23.8},{"t":"2019-07-10T06:00","a":25.8},{"t":"2019-07-10T12:00","a":27.8},{"t":"2019-07-10T18:00","a":25.5},
{"t":"2019-07-11T00:00","a":24.3},{"t":"2019-07-11T06:00","a":26.2},{"t":"2019-07-11T12:00","a":28.0},{"t":"2019-07-11T18:00","a":26.0},
{"t":"2019-07-12T00:00","a":24.5},{"t":"2019-07-12T06:00","a":26.0},{"t":"2019-07-12T12:00","a":27.5},{"t":"2019-07-12T18:00","a":25.8},
{"t":"2019-07-13T00:00","a":24.8},{"t":"2019-07-13T06:00","a":26.3},{"t":"2019-07-13T12:00","a":28.0},{"t":"2019-07-13T18:00","a":26.2},
{"t":"2019-07-14T00:00","a":25.0},{"t":"2019-07-14T06:00","a":26.5},{"t":"2019-07-14T12:00","a":28.3},{"t":"2019-07-14T18:00","a":26.4},
{"t":"2019-07-15T00:00","a":24.8},{"t":"2019-07-15T06:00","a":26.0},{"t":"2019-07-15T12:00","a":27.6},{"t":"2019-07-15T18:00","a":25.5},
{"t":"2019-07-16T00:00","a":23.5},{"t":"2019-07-16T06:00","a":25.0},{"t":"2019-07-16T12:00","a":27.2},{"t":"2019-07-16T18:00","a":25.6},
{"t":"2019-07-17T00:00","a":24.5},{"t":"2019-07-17T06:00","a":26.0},{"t":"2019-07-17T12:00","a":27.8},{"t":"2019-07-17T18:00","a":26.0},
{"t":"2019-07-18T00:00","a":24.8},{"t":"2019-07-18T06:00","a":26.3},{"t":"2019-07-18T12:00","a":28.0},{"t":"2019-07-18T18:00","a":26.2},
{"t":"2019-07-19T00:00","a":25.0},{"t":"2019-07-19T06:00","a":26.5},{"t":"2019-07-19T12:00","a":28.2},{"t":"2019-07-19T18:00","a":26.5},
{"t":"2019-07-20T00:00","a":25.2},{"t":"2019-07-20T06:00","a":26.8},{"t":"2019-07-20T12:00","a":28.6},{"t":"2019-07-20T18:00","a":26.8},
{"t":"2019-07-21T00:00","a":25.5},{"t":"2019-07-21T06:00","a":27.0},{"t":"2019-07-21T12:00","a":28.8},{"t":"2019-07-21T18:00","a":27.0},
{"t":"2019-07-22T00:00","a":25.5},{"t":"2019-07-22T06:00","a":27.2},{"t":"2019-07-22T12:00","a":29.0},{"t":"2019-07-22T18:00","a":27.0},
{"t":"2019-07-23T00:00","a":25.8},{"t":"2019-07-23T06:00","a":27.5},{"t":"2019-07-23T12:00","a":29.8},{"t":"2019-07-23T18:00","a":27.5},
{"t":"2019-07-24T00:00","a":25.5},{"t":"2019-07-24T06:00","a":27.0},{"t":"2019-07-24T12:00","a":28.8},{"t":"2019-07-24T18:00","a":26.8},
{"t":"2019-07-25T00:00","a":25.2},{"t":"2019-07-25T06:00","a":26.8},{"t":"2019-07-25T12:00","a":28.5},{"t":"2019-07-25T18:00","a":26.6},
{"t":"2019-07-26T00:00","a":25.0},{"t":"2019-07-26T06:00","a":26.5},{"t":"2019-07-26T12:00","a":28.3},{"t":"2019-07-26T18:00","a":26.5},
{"t":"2019-07-27T00:00","a":24.0},{"t":"2019-07-27T06:00","a":25.8},{"t":"2019-07-27T12:00","a":28.0},{"t":"2019-07-27T18:00","a":25.5},
{"t":"2019-07-28T00:00","a":23.5},{"t":"2019-07-28T06:00","a":25.2},{"t":"2019-07-28T12:00","a":27.5},{"t":"2019-07-28T18:00","a":25.6},
{"t":"2019-07-29T00:00","a":24.5},{"t":"2019-07-29T06:00","a":26.2},{"t":"2019-07-29T12:00","a":28.0},{"t":"2019-07-29T18:00","a":26.2},
{"t":"2019-07-30T00:00","a":25.0},{"t":"2019-07-30T06:00","a":26.5},{"t":"2019-07-30T12:00","a":28.3},{"t":"2019-07-30T18:00","a":26.4},
{"t":"2019-07-31T00:00","a":25.2},{"t":"2019-07-31T06:00","a":26.8},{"t":"2019-07-31T12:00","a":28.5},{"t":"2019-07-31T18:00","a":26.7},
{"t":"2019-08-01T00:00","a":25.3},{"t":"2019-08-01T06:00","a":27.0},{"t":"2019-08-01T12:00","a":28.7},{"t":"2019-08-01T18:00","a":26.9},
{"t":"2019-08-02T00:00","a":25.5},{"t":"2019-08-02T06:00","a":27.1},{"t":"2019-08-02T12:00","a":28.8},{"t":"2019-08-02T18:00","a":27.0},
{"t":"2019-08-03T00:00","a":25.6},{"t":"2019-08-03T06:00","a":27.2},{"t":"2019-08-03T12:00","a":29.0},{"t":"2019-08-03T18:00","a":27.2},
{"t":"2019-08-04T00:00","a":25.5},{"t":"2019-08-04T06:00","a":27.0},{"t":"2019-08-04T12:00","a":28.8},{"t":"2019-08-04T18:00","a":27.0},
{"t":"2019-08-05T00:00","a":25.7},{"t":"2019-08-05T06:00","a":27.3},{"t":"2019-08-05T12:00","a":29.2},{"t":"2019-08-05T18:00","a":27.3},
{"t":"2019-08-06T00:00","a":25.8},{"t":"2019-08-06T06:00","a":27.5},{"t":"2019-08-06T12:00","a":29.4},{"t":"2019-08-06T18:00","a":27.4},
{"t":"2019-08-07T00:00","a":25.6},{"t":"2019-08-07T06:00","a":27.2},{"t":"2019-08-07T12:00","a":29.0},{"t":"2019-08-07T18:00","a":27.2},
{"t":"2019-08-08T00:00","a":25.8},{"t":"2019-08-08T06:00","a":27.6},{"t":"2019-08-08T12:00","a":29.6},{"t":"2019-08-08T18:00","a":27.6},
{"t":"2019-08-09T00:00","a":26.0},{"t":"2019-08-09T06:00","a":27.8},{"t":"2019-08-09T12:00","a":30.0},{"t":"2019-08-09T18:00","a":27.7},
{"t":"2019-08-10T00:00","a":25.8},{"t":"2019-08-10T06:00","a":27.5},{"t":"2019-08-10T12:00","a":29.5},{"t":"2019-08-10T18:00","a":27.3},
{"t":"2019-08-11T00:00","a":25.5},{"t":"2019-08-11T06:00","a":27.0},{"t":"2019-08-11T12:00","a":29.0},{"t":"2019-08-11T18:00","a":26.8},
{"t":"2019-08-12T00:00","a":24.5},{"t":"2019-08-12T06:00","a":26.0},{"t":"2019-08-12T12:00","a":27.8},{"t":"2019-08-12T18:00","a":25.6},
{"t":"2019-08-13T00:00","a":23.8},{"t":"2019-08-13T06:00","a":25.5},{"t":"2019-08-13T12:00","a":27.5},{"t":"2019-08-13T18:00","a":25.8},
{"t":"2019-08-14T00:00","a":24.8},{"t":"2019-08-14T06:00","a":26.5},{"t":"2019-08-14T12:00","a":28.2},{"t":"2019-08-14T18:00","a":26.4},
{"t":"2019-08-15T00:00","a":25.0},{"t":"2019-08-15T06:00","a":26.6},{"t":"2019-08-15T12:00","a":28.4},{"t":"2019-08-15T18:00","a":26.3},
{"t":"2019-08-16T00:00","a":25.0},{"t":"2019-08-16T06:00","a":26.0}],
"bot":[{"s":"mouth","t":"2019-07-05T19:00","v":27.6},{"s":"mouth","t":"2019-07-06T07:00","v":27.0},{"s":"mouth","t":"2019-07-06T19:00","v":27.6},{"s":"mouth","t":"2019-07-07T07:00","v":27.2},{"s":"mouth","t":"2019-07-07T19:00","v":28.0},{"s":"mouth","t":"2019-07-08T07:00","v":27.5},{"s":"mouth","t":"2019-07-08T19:00","v":27.4},{"s":"mouth","t":"2019-07-09T07:00","v":27.0},{"s":"mouth","t":"2019-07-09T19:00","v":26.8},{"s":"mouth","t":"2019-07-10T07:00","v":26.9},{"s":"mouth","t":"2019-07-10T19:00","v":26.2},{"s":"mouth","t":"2019-07-11T07:00","v":26.6},{"s":"mouth","t":"2019-07-11T19:00","v":25.3},{"s":"mouth","t":"2019-07-12T07:00","v":24.0},{"s":"mouth","t":"2019-07-12T19:00","v":24.8},{"s":"mouth","t":"2019-07-13T07:00","v":25.0},{"s":"mouth","t":"2019-07-13T19:00","v":25.6},{"s":"mouth","t":"2019-07-14T07:00","v":26.2},{"s":"mouth","t":"2019-07-14T19:00","v":25.9},{"s":"mouth","t":"2019-07-15T07:00","v":26.2},{"s":"mouth","t":"2019-07-15T19:00","v":26.0},{"s":"mouth","t":"2019-07-16T07:00","v":26.1},{"s":"mouth","t":"2019-07-16T19:00","v":25.8},{"s":"mouth","t":"2019-07-17T07:00","v":25.7},{"s":"mouth","t":"2019-07-17T19:00","v":25.6},{"s":"mouth","t":"2019-07-18T07:00","v":24.6},{"s":"mouth","t":"2019-07-18T19:00","v":23.6},{"s":"mouth","t":"2019-07-19T07:00","v":24.2},{"s":"mouth","t":"2019-07-19T19:00","v":25.0},{"s":"mouth","t":"2019-07-20T07:00","v":25.2},{"s":"mouth","t":"2019-07-20T19:00","v":25.5},{"s":"mouth","t":"2019-07-21T07:00","v":25.9},{"s":"mouth","t":"2019-07-21T19:00","v":26.2},{"s":"mouth","t":"2019-07-22T07:00","v":26.4},{"s":"mouth","t":"2019-07-22T19:00","v":26.6},{"s":"mouth","t":"2019-07-23T07:00","v":27.0},{"s":"mouth","t":"2019-07-23T19:00","v":27.2},{"s":"mouth","t":"2019-07-24T07:00","v":27.8},{"s":"mouth","t":"2019-07-24T19:00","v":28.0},{"s":"mouth","t":"2019-07-25T07:00","v":28.2},{"s":"mouth","t":"2019-07-25T19:00","v":28.3},{"s":"mouth","t":"2019-07-26T07:00","v":28.1},{"s":"mouth","t":"2019-07-26T19:00","v":28.6},{"s":"mouth","t":"2019-07-27T07:00","v":28.8},{"s":"mouth","t":"2019-07-27T19:00","v":27.5},{"s":"mouth","t":"2019-07-28T07:00","v":26.5},{"s":"mouth","t":"2019-07-28T19:00","v":26.6},{"s":"mouth","t":"2019-07-29T07:00","v":26.2},{"s":"mouth","t":"2019-07-30T07:00","v":26.1},{"s":"mouth","t":"2019-07-31T07:00","v":26.0},{"s":"mouth","t":"2019-08-01T07:00","v":26.2},{"s":"mouth","t":"2019-08-02T07:00","v":26.5},{"s":"mouth","t":"2019-08-02T19:00","v":25.8},{"s":"mouth","t":"2019-08-03T03:00","v":25.2},{"s":"mouth","t":"2019-08-03T19:00","v":25.8},{"s":"mouth","t":"2019-08-04T12:00","v":26.5},{"s":"mouth","t":"2019-08-05T12:00","v":26.7},{"s":"mouth","t":"2019-08-06T12:00","v":26.9},{"s":"mouth","t":"2019-08-07T12:00","v":27.2},{"s":"mouth","t":"2019-08-08T03:00","v":27.6},{"s":"mouth","t":"2019-08-09T03:00","v":27.9},{"s":"mouth","t":"2019-08-10T05:00","v":28.3},{"s":"mouth","t":"2019-08-11T05:00","v":28.5},{"s":"mouth","t":"2019-08-12T10:00","v":28.8},{"s":"mouth","t":"2019-08-13T12:00","v":28.1},{"s":"mouth","t":"2019-08-13T22:00","v":26.9},{"s":"mouth","t":"2019-08-14T12:00","v":26.7},{"s":"mouth","t":"2019-08-15T07:00","v":26.2},{"s":"mouth","t":"2019-08-15T14:00","v":26.0},
{"s":"outside","t":"2019-07-05T19:00","v":24.5},{"s":"outside","t":"2019-07-06T12:00","v":24.4},{"s":"outside","t":"2019-07-07T10:00","v":24.2},{"s":"outside","t":"2019-07-08T00:00","v":24.6},{"s":"outside","t":"2019-07-08T14:00","v":25.8},{"s":"outside","t":"2019-07-09T05:00","v":27.1},{"s":"outside","t":"2019-07-09T14:00","v":26.6},{"s":"outside","t":"2019-07-10T05:00","v":25.8},{"s":"outside","t":"2019-07-10T19:00","v":24.5},{"s":"outside","t":"2019-07-11T07:00","v":23.6},{"s":"outside","t":"2019-07-11T19:00","v":22.5},{"s":"outside","t":"2019-07-12T07:00","v":21.7},{"s":"outside","t":"2019-07-12T17:00","v":23.0},{"s":"outside","t":"2019-07-13T05:00","v":22.4},{"s":"outside","t":"2019-07-13T17:00","v":22.8},{"s":"outside","t":"2019-07-14T07:00","v":23.5},{"s":"outside","t":"2019-07-14T19:00","v":24.8},{"s":"outside","t":"2019-07-15T02:00","v":26.0},{"s":"outside","t":"2019-07-15T14:00","v":25.0},{"s":"outside","t":"2019-07-16T07:00","v":24.6},{"s":"outside","t":"2019-07-17T00:00","v":24.6},{"s":"outside","t":"2019-07-17T14:00","v":23.4},{"s":"outside","t":"2019-07-18T07:00","v":22.5},{"s":"outside","t":"2019-07-18T19:00","v":22.9},{"s":"outside","t":"2019-07-19T12:00","v":23.6},{"s":"outside","t":"2019-07-20T02:00","v":24.2},{"s":"outside","t":"2019-07-21T00:00","v":25.0},{"s":"outside","t":"2019-07-21T22:00","v":25.8},{"s":"outside","t":"2019-07-22T19:00","v":26.3},{"s":"outside","t":"2019-07-23T17:00","v":26.9},{"s":"outside","t":"2019-07-24T14:00","v":27.5},{"s":"outside","t":"2019-07-25T17:00","v":27.9},{"s":"outside","t":"2019-07-26T12:00","v":28.0},{"s":"outside","t":"2019-07-27T02:00","v":28.4},{"s":"outside","t":"2019-07-27T14:00","v":27.0},{"s":"outside","t":"2019-07-27T22:00","v":25.5},{"s":"outside","t":"2019-07-28T14:00","v":24.4},{"s":"outside","t":"2019-07-29T12:00","v":23.6},{"s":"outside","t":"2019-07-30T07:00","v":23.4},{"s":"outside","t":"2019-07-31T00:00","v":23.8},{"s":"outside","t":"2019-07-31T05:00","v":22.9},{"s":"outside","t":"2019-07-31T12:00","v":23.9},{"s":"outside","t":"2019-08-01T05:00","v":23.7},{"s":"outside","t":"2019-08-02T05:00","v":24.1},{"s":"outside","t":"2019-08-03T00:00","v":25.1},{"s":"outside","t":"2019-08-04T12:00","v":25.8},{"s":"outside","t":"2019-08-06T00:00","v":26.2},{"s":"outside","t":"2019-08-08T03:00","v":26.7},{"s":"outside","t":"2019-08-10T05:00","v":27.6},{"s":"outside","t":"2019-08-12T10:00","v":28.1},{"s":"outside","t":"2019-08-13T12:00","v":27.6},{"s":"outside","t":"2019-08-13T22:00","v":26.7},{"s":"outside","t":"2019-08-15T14:00","v":26.0}],
"adcp":[
{"t":"2019-07-06T00:00","z":0.6,"z2":1.1,"u":-0.09},{"t":"2019-07-06T00:00","z":1.1,"z2":1.6,"u":-0.04},{"t":"2019-07-06T00:00","z":1.6,"z2":2.1,"u":0.02},{"t":"2019-07-06T00:00","z":2.1,"z2":2.6,"u":0.07},{"t":"2019-07-06T00:00","z":2.6,"z2":3.1,"u":0.09},{"t":"2019-07-06T00:00","z":3.1,"z2":3.5,"u":0.09},
{"t":"2019-07-07T00:00","z":0.6,"z2":1.1,"u":0.0},{"t":"2019-07-07T00:00","z":1.1,"z2":1.6,"u":0.03},{"t":"2019-07-07T00:00","z":1.6,"z2":2.1,"u":0.06},{"t":"2019-07-07T00:00","z":2.1,"z2":2.6,"u":0.08},{"t":"2019-07-07T00:00","z":2.6,"z2":3.1,"u":0.09},{"t":"2019-07-07T00:00","z":3.1,"z2":3.5,"u":0.09},
{"t":"2019-07-08T00:00","z":0.6,"z2":1.1,"u":0.05},{"t":"2019-07-08T00:00","z":1.1,"z2":1.6,"u":0.07},{"t":"2019-07-08T00:00","z":1.6,"z2":2.1,"u":0.08},{"t":"2019-07-08T00:00","z":2.1,"z2":2.6,"u":0.09},{"t":"2019-07-08T00:00","z":2.6,"z2":3.1,"u":0.09},{"t":"2019-07-08T00:00","z":3.1,"z2":3.5,"u":0.08},
{"t":"2019-07-09T00:00","z":0.6,"z2":1.1,"u":0.05},{"t":"2019-07-09T00:00","z":1.1,"z2":1.6,"u":0.07},{"t":"2019-07-09T00:00","z":1.6,"z2":2.1,"u":0.08},{"t":"2019-07-09T00:00","z":2.1,"z2":2.6,"u":0.09},{"t":"2019-07-09T00:00","z":2.6,"z2":3.1,"u":0.09},{"t":"2019-07-09T00:00","z":3.1,"z2":3.5,"u":0.08},
{"t":"2019-07-10T00:00","z":0.6,"z2":1.1,"u":-0.02},{"t":"2019-07-10T00:00","z":1.1,"z2":1.6,"u":-0.01},{"t":"2019-07-10T00:00","z":1.6,"z2":2.1,"u":0.0},{"t":"2019-07-10T00:00","z":2.1,"z2":2.6,"u":0.01},{"t":"2019-07-10T00:00","z":2.6,"z2":3.1,"u":0.02},{"t":"2019-07-10T00:00","z":3.1,"z2":3.5,"u":0.03},
{"t":"2019-07-11T00:00","z":0.6,"z2":1.1,"u":-0.04},{"t":"2019-07-11T00:00","z":1.1,"z2":1.6,"u":-0.03},{"t":"2019-07-11T00:00","z":1.6,"z2":2.1,"u":-0.02},{"t":"2019-07-11T00:00","z":2.1,"z2":2.6,"u":-0.01},{"t":"2019-07-11T00:00","z":2.6,"z2":3.1,"u":0.0},{"t":"2019-07-11T00:00","z":3.1,"z2":3.5,"u":0.01},
{"t":"2019-07-12T00:00","z":0.6,"z2":1.1,"u":-0.1},{"t":"2019-07-12T00:00","z":1.1,"z2":1.6,"u":-0.07},{"t":"2019-07-12T00:00","z":1.6,"z2":2.1,"u":0.0},{"t":"2019-07-12T00:00","z":2.1,"z2":2.6,"u":0.06},{"t":"2019-07-12T00:00","z":2.6,"z2":3.1,"u":0.09},{"t":"2019-07-12T00:00","z":3.1,"z2":3.5,"u":0.1},
{"t":"2019-07-13T00:00","z":0.6,"z2":1.1,"u":-0.1},{"t":"2019-07-13T00:00","z":1.1,"z2":1.6,"u":-0.07},{"t":"2019-07-13T00:00","z":1.6,"z2":2.1,"u":0.0},{"t":"2019-07-13T00:00","z":2.1,"z2":2.6,"u":0.06},{"t":"2019-07-13T00:00","z":2.6,"z2":3.1,"u":0.09},{"t":"2019-07-13T00:00","z":3.1,"z2":3.5,"u":0.1},
{"t":"2019-07-14T00:00","z":0.6,"z2":1.1,"u":-0.09},{"t":"2019-07-14T00:00","z":1.1,"z2":1.6,"u":-0.04},{"t":"2019-07-14T00:00","z":1.6,"z2":2.1,"u":0.02},{"t":"2019-07-14T00:00","z":2.1,"z2":2.6,"u":0.07},{"t":"2019-07-14T00:00","z":2.6,"z2":3.1,"u":0.09},{"t":"2019-07-14T00:00","z":3.1,"z2":3.5,"u":0.09},
{"t":"2019-07-15T00:00","z":0.6,"z2":1.1,"u":0.0},{"t":"2019-07-15T00:00","z":1.1,"z2":1.6,"u":0.0},{"t":"2019-07-15T00:00","z":1.6,"z2":2.1,"u":0.0},{"t":"2019-07-15T00:00","z":2.1,"z2":2.6,"u":0.0},{"t":"2019-07-15T00:00","z":2.6,"z2":3.1,"u":0.01},{"t":"2019-07-15T00:00","z":3.1,"z2":3.5,"u":0.01},
{"t":"2019-07-16T00:00","z":0.6,"z2":1.1,"u":0.0},{"t":"2019-07-16T00:00","z":1.1,"z2":1.6,"u":0.0},{"t":"2019-07-16T00:00","z":1.6,"z2":2.1,"u":0.0},{"t":"2019-07-16T00:00","z":2.1,"z2":2.6,"u":0.0},{"t":"2019-07-16T00:00","z":2.6,"z2":3.1,"u":0.01},{"t":"2019-07-16T00:00","z":3.1,"z2":3.5,"u":0.01},
{"t":"2019-07-17T00:00","z":0.6,"z2":1.1,"u":-0.1},{"t":"2019-07-17T00:00","z":1.1,"z2":1.6,"u":-0.07},{"t":"2019-07-17T00:00","z":1.6,"z2":2.1,"u":0.0},{"t":"2019-07-17T00:00","z":2.1,"z2":2.6,"u":0.06},{"t":"2019-07-17T00:00","z":2.6,"z2":3.1,"u":0.09},{"t":"2019-07-17T00:00","z":3.1,"z2":3.5,"u":0.1},
{"t":"2019-07-18T00:00","z":0.6,"z2":1.1,"u":-0.1},{"t":"2019-07-18T00:00","z":1.1,"z2":1.6,"u":-0.07},{"t":"2019-07-18T00:00","z":1.6,"z2":2.1,"u":0.0},{"t":"2019-07-18T00:00","z":2.1,"z2":2.6,"u":0.06},{"t":"2019-07-18T00:00","z":2.6,"z2":3.1,"u":0.09},{"t":"2019-07-18T00:00","z":3.1,"z2":3.5,"u":0.1},
{"t":"2019-07-19T00:00","z":0.6,"z2":1.1,"u":-0.09},{"t":"2019-07-19T00:00","z":1.1,"z2":1.6,"u":-0.04},{"t":"2019-07-19T00:00","z":1.6,"z2":2.1,"u":0.02},{"t":"2019-07-19T00:00","z":2.1,"z2":2.6,"u":0.07},{"t":"2019-07-19T00:00","z":2.6,"z2":3.1,"u":0.09},{"t":"2019-07-19T00:00","z":3.1,"z2":3.5,"u":0.09},
{"t":"2019-07-20T00:00","z":0.6,"z2":1.1,"u":-0.09},{"t":"2019-07-20T00:00","z":1.1,"z2":1.6,"u":-0.04},{"t":"2019-07-20T00:00","z":1.6,"z2":2.1,"u":0.02},{"t":"2019-07-20T00:00","z":2.1,"z2":2.6,"u":0.07},{"t":"2019-07-20T00:00","z":2.6,"z2":3.1,"u":0.09},{"t":"2019-07-20T00:00","z":3.1,"z2":3.5,"u":0.09},
{"t":"2019-07-21T00:00","z":0.6,"z2":1.1,"u":-0.04},{"t":"2019-07-21T00:00","z":1.1,"z2":1.6,"u":0.01},{"t":"2019-07-21T00:00","z":1.6,"z2":2.1,"u":0.05},{"t":"2019-07-21T00:00","z":2.1,"z2":2.6,"u":0.08},{"t":"2019-07-21T00:00","z":2.6,"z2":3.1,"u":0.09},{"t":"2019-07-21T00:00","z":3.1,"z2":3.5,"u":0.09},
{"t":"2019-07-22T00:00","z":0.6,"z2":1.1,"u":-0.09},{"t":"2019-07-22T00:00","z":1.1,"z2":1.6,"u":-0.04},{"t":"2019-07-22T00:00","z":1.6,"z2":2.1,"u":0.02},{"t":"2019-07-22T00:00","z":2.1,"z2":2.6,"u":0.07},{"t":"2019-07-22T00:00","z":2.6,"z2":3.1,"u":0.09},{"t":"2019-07-22T00:00","z":3.1,"z2":3.5,"u":0.09},
{"t":"2019-07-23T00:00","z":0.6,"z2":1.1,"u":-0.09},{"t":"2019-07-23T00:00","z":1.1,"z2":1.6,"u":-0.04},{"t":"2019-07-23T00:00","z":1.6,"z2":2.1,"u":0.02},{"t":"2019-07-23T00:00","z":2.1,"z2":2.6,"u":0.07},{"t":"2019-07-23T00:00","z":2.6,"z2":3.1,"u":0.09},{"t":"2019-07-23T00:00","z":3.1,"z2":3.5,"u":0.09},
{"t":"2019-07-24T00:00","z":0.6,"z2":1.1,"u":-0.04},{"t":"2019-07-24T00:00","z":1.1,"z2":1.6,"u":0.01},{"t":"2019-07-24T00:00","z":1.6,"z2":2.1,"u":0.05},{"t":"2019-07-24T00:00","z":2.1,"z2":2.6,"u":0.08},{"t":"2019-07-24T00:00","z":2.6,"z2":3.1,"u":0.09},{"t":"2019-07-24T00:00","z":3.1,"z2":3.5,"u":0.09},
{"t":"2019-07-25T00:00","z":0.6,"z2":1.1,"u":0.0},{"t":"2019-07-25T00:00","z":1.1,"z2":1.6,"u":0.03},{"t":"2019-07-25T00:00","z":1.6,"z2":2.1,"u":0.06},{"t":"2019-07-25T00:00","z":2.1,"z2":2.6,"u":0.08},{"t":"2019-07-25T00:00","z":2.6,"z2":3.1,"u":0.09},{"t":"2019-07-25T00:00","z":3.1,"z2":3.5,"u":0.09},
{"t":"2019-07-26T00:00","z":0.6,"z2":1.1,"u":-0.02},{"t":"2019-07-26T00:00","z":1.1,"z2":1.6,"u":-0.01},{"t":"2019-07-26T00:00","z":1.6,"z2":2.1,"u":0.0},{"t":"2019-07-26T00:00","z":2.1,"z2":2.6,"u":0.01},{"t":"2019-07-26T00:00","z":2.6,"z2":3.1,"u":0.02},{"t":"2019-07-26T00:00","z":3.1,"z2":3.5,"u":0.03},
{"t":"2019-07-27T00:00","z":0.6,"z2":1.1,"u":-0.04},{"t":"2019-07-27T00:00","z":1.1,"z2":1.6,"u":-0.03},{"t":"2019-07-27T00:00","z":1.6,"z2":2.1,"u":-0.02},{"t":"2019-07-27T00:00","z":2.1,"z2":2.6,"u":-0.01},{"t":"2019-07-27T00:00","z":2.6,"z2":3.1,"u":0.0},{"t":"2019-07-27T00:00","z":3.1,"z2":3.5,"u":0.01},
{"t":"2019-07-28T00:00","z":0.6,"z2":1.1,"u":-0.02},{"t":"2019-07-28T00:00","z":1.1,"z2":1.6,"u":-0.01},{"t":"2019-07-28T00:00","z":1.6,"z2":2.1,"u":0.0},{"t":"2019-07-28T00:00","z":2.1,"z2":2.6,"u":0.01},{"t":"2019-07-28T00:00","z":2.6,"z2":3.1,"u":0.02},{"t":"2019-07-28T00:00","z":3.1,"z2":3.5,"u":0.03},
{"t":"2019-07-29T00:00","z":0.6,"z2":1.1,"u":-0.04},{"t":"2019-07-29T00:00","z":1.1,"z2":1.6,"u":0.01},{"t":"2019-07-29T00:00","z":1.6,"z2":2.1,"u":0.05},{"t":"2019-07-29T00:00","z":2.1,"z2":2.6,"u":0.08},{"t":"2019-07-29T00:00","z":2.6,"z2":3.1,"u":0.09},{"t":"2019-07-29T00:00","z":3.1,"z2":3.5,"u":0.09},
{"t":"2019-07-30T00:00","z":0.6,"z2":1.1,"u":0.0},{"t":"2019-07-30T00:00","z":1.1,"z2":1.6,"u":0.03},{"t":"2019-07-30T00:00","z":1.6,"z2":2.1,"u":0.06},{"t":"2019-07-30T00:00","z":2.1,"z2":2.6,"u":0.08},{"t":"2019-07-30T00:00","z":2.6,"z2":3.1,"u":0.09},{"t":"2019-07-30T00:00","z":3.1,"z2":3.5,"u":0.09},
{"t":"2019-07-31T00:00","z":0.6,"z2":1.1,"u":-0.02},{"t":"2019-07-31T00:00","z":1.1,"z2":1.6,"u":-0.01},{"t":"2019-07-31T00:00","z":1.6,"z2":2.1,"u":0.0},{"t":"2019-07-31T00:00","z":2.1,"z2":2.6,"u":0.01},{"t":"2019-07-31T00:00","z":2.6,"z2":3.1,"u":0.02},{"t":"2019-07-31T00:00","z":3.1,"z2":3.5,"u":0.03},
{"t":"2019-08-01T00:00","z":0.6,"z2":1.1,"u":0.0},{"t":"2019-08-01T00:00","z":1.1,"z2":1.6,"u":0.03},{"t":"2019-08-01T00:00","z":1.6,"z2":2.1,"u":0.06},{"t":"2019-08-01T00:00","z":2.1,"z2":2.6,"u":0.08},{"t":"2019-08-01T00:00","z":2.6,"z2":3.1,"u":0.09},{"t":"2019-08-01T00:00","z":3.1,"z2":3.5,"u":0.09},
{"t":"2019-08-02T00:00","z":0.6,"z2":1.1,"u":-0.09},{"t":"2019-08-02T00:00","z":1.1,"z2":1.6,"u":-0.04},{"t":"2019-08-02T00:00","z":1.6,"z2":2.1,"u":0.02},{"t":"2019-08-02T00:00","z":2.1,"z2":2.6,"u":0.07},{"t":"2019-08-02T00:00","z":2.6,"z2":3.1,"u":0.09},{"t":"2019-08-02T00:00","z":3.1,"z2":3.5,"u":0.09},
{"t":"2019-08-03T00:00","z":0.6,"z2":1.1,"u":-0.1},{"t":"2019-08-03T00:00","z":1.1,"z2":1.6,"u":-0.07},{"t":"2019-08-03T00:00","z":1.6,"z2":2.1,"u":0.0},{"t":"2019-08-03T00:00","z":2.1,"z2":2.6,"u":0.06},{"t":"2019-08-03T00:00","z":2.6,"z2":3.1,"u":0.09},{"t":"2019-08-03T00:00","z":3.1,"z2":3.5,"u":0.1},
{"t":"2019-08-04T00:00","z":0.6,"z2":1.1,"u":-0.1},{"t":"2019-08-04T00:00","z":1.1,"z2":1.6,"u":-0.07},{"t":"2019-08-04T00:00","z":1.6,"z2":2.1,"u":0.0},{"t":"2019-08-04T00:00","z":2.1,"z2":2.6,"u":0.06},{"t":"2019-08-04T00:00","z":2.6,"z2":3.1,"u":0.09},{"t":"2019-08-04T00:00","z":3.1,"z2":3.5,"u":0.1},
{"t":"2019-08-05T00:00","z":0.6,"z2":1.1,"u":-0.09},{"t":"2019-08-05T00:00","z":1.1,"z2":1.6,"u":-0.04},{"t":"2019-08-05T00:00","z":1.6,"z2":2.1,"u":0.02},{"t":"2019-08-05T00:00","z":2.1,"z2":2.6,"u":0.07},{"t":"2019-08-05T00:00","z":2.6,"z2":3.1,"u":0.09},{"t":"2019-08-05T00:00","z":3.1,"z2":3.5,"u":0.09},
{"t":"2019-08-06T00:00","z":0.6,"z2":1.1,"u":-0.1},{"t":"2019-08-06T00:00","z":1.1,"z2":1.6,"u":-0.07},{"t":"2019-08-06T00:00","z":1.6,"z2":2.1,"u":0.0},{"t":"2019-08-06T00:00","z":2.1,"z2":2.6,"u":0.06},{"t":"2019-08-06T00:00","z":2.6,"z2":3.1,"u":0.09},{"t":"2019-08-06T00:00","z":3.1,"z2":3.5,"u":0.1},
{"t":"2019-08-07T00:00","z":0.6,"z2":1.1,"u":-0.09},{"t":"2019-08-07T00:00","z":1.1,"z2":1.6,"u":-0.04},{"t":"2019-08-07T00:00","z":1.6,"z2":2.1,"u":0.02},{"t":"2019-08-07T00:00","z":2.1,"z2":2.6,"u":0.07},{"t":"2019-08-07T00:00","z":2.6,"z2":3.1,"u":0.09},{"t":"2019-08-07T00:00","z":3.1,"z2":3.5,"u":0.09},
{"t":"2019-08-08T00:00","z":0.6,"z2":1.1,"u":-0.09},{"t":"2019-08-08T00:00","z":1.1,"z2":1.6,"u":-0.04},{"t":"2019-08-08T00:00","z":1.6,"z2":2.1,"u":0.02},{"t":"2019-08-08T00:00","z":2.1,"z2":2.6,"u":0.07},{"t":"2019-08-08T00:00","z":2.6,"z2":3.1,"u":0.09},{"t":"2019-08-08T00:00","z":3.1,"z2":3.5,"u":0.09},
{"t":"2019-08-09T00:00","z":0.6,"z2":1.1,"u":-0.04},{"t":"2019-08-09T00:00","z":1.1,"z2":1.6,"u":0.01},{"t":"2019-08-09T00:00","z":1.6,"z2":2.1,"u":0.05},{"t":"2019-08-09T00:00","z":2.1,"z2":2.6,"u":0.08},{"t":"2019-08-09T00:00","z":2.6,"z2":3.1,"u":0.09},{"t":"2019-08-09T00:00","z":3.1,"z2":3.5,"u":0.09},
{"t":"2019-08-10T00:00","z":0.6,"z2":1.1,"u":-0.04},{"t":"2019-08-10T00:00","z":1.1,"z2":1.6,"u":0.01},{"t":"2019-08-10T00:00","z":1.6,"z2":2.1,"u":0.05},{"t":"2019-08-10T00:00","z":2.1,"z2":2.6,"u":0.08},{"t":"2019-08-10T00:00","z":2.6,"z2":3.1,"u":0.09},{"t":"2019-08-10T00:00","z":3.1,"z2":3.5,"u":0.09},
{"t":"2019-08-11T00:00","z":0.6,"z2":1.1,"u":0.0},{"t":"2019-08-11T00:00","z":1.1,"z2":1.6,"u":0.03},{"t":"2019-08-11T00:00","z":1.6,"z2":2.1,"u":0.06},{"t":"2019-08-11T00:00","z":2.1,"z2":2.6,"u":0.08},{"t":"2019-08-11T00:00","z":2.6,"z2":3.1,"u":0.09},{"t":"2019-08-11T00:00","z":3.1,"z2":3.5,"u":0.09},
{"t":"2019-08-12T00:00","z":0.6,"z2":1.1,"u":-0.02},{"t":"2019-08-12T00:00","z":1.1,"z2":1.6,"u":-0.01},{"t":"2019-08-12T00:00","z":1.6,"z2":2.1,"u":0.0},{"t":"2019-08-12T00:00","z":2.1,"z2":2.6,"u":0.01},{"t":"2019-08-12T00:00","z":2.6,"z2":3.1,"u":0.02},{"t":"2019-08-12T00:00","z":3.1,"z2":3.5,"u":0.03},
{"t":"2019-08-13T00:00","z":0.6,"z2":1.1,"u":-0.1},{"t":"2019-08-13T00:00","z":1.1,"z2":1.6,"u":-0.07},{"t":"2019-08-13T00:00","z":1.6,"z2":2.1,"u":0.0},{"t":"2019-08-13T00:00","z":2.1,"z2":2.6,"u":0.06},{"t":"2019-08-13T00:00","z":2.6,"z2":3.1,"u":0.09},{"t":"2019-08-13T00:00","z":3.1,"z2":3.5,"u":0.1},
{"t":"2019-08-14T00:00","z":0.6,"z2":1.1,"u":-0.1},{"t":"2019-08-14T00:00","z":1.1,"z2":1.6,"u":-0.07},{"t":"2019-08-14T00:00","z":1.6,"z2":2.1,"u":0.0},{"t":"2019-08-14T00:00","z":2.1,"z2":2.6,"u":0.06},{"t":"2019-08-14T00:00","z":2.6,"z2":3.1,"u":0.09},{"t":"2019-08-14T00:00","z":3.1,"z2":3.5,"u":0.1}],
"q":[{"s":"inflow","g":1,"t":"2019-07-05T19:00","v":9},{"s":"inflow","g":1,"t":"2019-07-06T07:00","v":12},{"s":"inflow","g":1,"t":"2019-07-06T19:00","v":13.7},{"s":"inflow","g":1,"t":"2019-07-07T12:00","v":13.7},{"s":"inflow","g":1,"t":"2019-07-08T05:00","v":11},{"s":"inflow","g":1,"t":"2019-07-08T17:00","v":9},{"s":"inflow","g":1,"t":"2019-07-09T07:00","v":5.7},{"s":"inflow","g":1,"t":"2019-07-09T19:00","v":4},{"s":"inflow","g":1,"t":"2019-07-10T10:00","v":3},{"s":"inflow","g":1,"t":"2019-07-10T22:00","v":4},{"s":"inflow","g":1,"t":"2019-07-11T10:00","v":10},{"s":"inflow","g":1,"t":"2019-07-11T19:00","v":16},{"s":"inflow","g":1,"t":"2019-07-12T03:00","v":20},{"s":"inflow","g":1,"t":"2019-07-12T14:00","v":18.5},{"s":"inflow","g":1,"t":"2019-07-13T05:00","v":17},{"s":"inflow","g":1,"t":"2019-07-13T19:00","v":15},{"s":"inflow","g":1,"t":"2019-07-14T12:00","v":12},{"s":"inflow","g":1,"t":"2019-07-15T05:00","v":5.6},{"s":"inflow","g":1,"t":"2019-07-15T17:00","v":2.3},{"s":"inflow","g":1,"t":"2019-07-16T05:00","v":5},{"s":"inflow","g":1,"t":"2019-07-16T17:00","v":13},{"s":"inflow","g":1,"t":"2019-07-17T05:00","v":20},{"s":"inflow","g":1,"t":"2019-07-17T19:00","v":18.5},{"s":"inflow","g":1,"t":"2019-07-18T07:00","v":17},{"s":"inflow","g":1,"t":"2019-07-19T10:00","v":18.5},{"s":"inflow","g":1,"t":"2019-07-20T05:00","v":15},{"s":"inflow","g":1,"t":"2019-07-21T07:00","v":17},{"s":"inflow","g":1,"t":"2019-07-22T07:00","v":12.4},{"s":"inflow","g":1,"t":"2019-07-23T07:00","v":14},{"s":"inflow","g":1,"t":"2019-07-24T00:00","v":14.3},{"s":"inflow","g":1,"t":"2019-07-24T17:00","v":12.4},{"s":"inflow","g":1,"t":"2019-07-25T17:00","v":10},{"s":"inflow","g":1,"t":"2019-07-26T12:00","v":8},{"s":"inflow","g":1,"t":"2019-07-27T00:00","v":5.7},{"s":"inflow","g":1,"t":"2019-07-27T12:00","v":8},{"s":"inflow","g":1,"t":"2019-07-27T22:00","v":10.7},{"s":"inflow","g":1,"t":"2019-07-28T12:00","v":12},{"s":"inflow","g":1,"t":"2019-07-29T05:00","v":14},{"s":"inflow","g":1,"t":"2019-07-30T00:00","v":15.7},{"s":"inflow","g":1,"t":"2019-07-30T14:00","v":14},{"s":"inflow","g":1,"t":"2019-07-31T05:00","v":12.4},{"s":"inflow","g":1,"t":"2019-07-31T19:00","v":11},{"s":"inflow","g":1,"t":"2019-08-01T12:00","v":10.7},{"s":"inflow","g":1,"t":"2019-08-02T07:00","v":13},{"s":"inflow","g":1,"t":"2019-08-03T03:00","v":15},{"s":"inflow","g":1,"t":"2019-08-04T12:00","v":15.7},{"s":"inflow","g":1,"t":"2019-08-05T10:00","v":14},{"s":"inflow","g":1,"t":"2019-08-06T05:00","v":12.4},{"s":"inflow","g":1,"t":"2019-08-07T10:00","v":13.4},{"s":"inflow","g":1,"t":"2019-08-08T12:00","v":14},{"s":"inflow","g":1,"t":"2019-08-09T12:00","v":13.5},{"s":"inflow","g":1,"t":"2019-08-10T17:00","v":14},{"s":"inflow","g":1,"t":"2019-08-11T07:00","v":12},{"s":"inflow","g":1,"t":"2019-08-11T19:00","v":9},{"s":"inflow","g":1,"t":"2019-08-12T10:00","v":7.5},{"s":"inflow","g":1,"t":"2019-08-12T22:00","v":6.7},{"s":"inflow","g":1,"t":"2019-08-13T12:00","v":9},{"s":"inflow","g":1,"t":"2019-08-14T00:00","v":14},{"s":"inflow","g":1,"t":"2019-08-14T12:00","v":19},{"s":"inflow","g":1,"t":"2019-08-14T19:00","v":17.4},{"s":"inflow","g":1,"t":"2019-08-15T02:00","v":7},
{"s":"outflow","g":1,"t":"2019-07-05T19:00","v":-5.3},{"s":"outflow","g":1,"t":"2019-07-06T07:00","v":-11},{"s":"outflow","g":1,"t":"2019-07-06T19:00","v":-12.5},{"s":"outflow","g":1,"t":"2019-07-07T05:00","v":-10},{"s":"outflow","g":1,"t":"2019-07-07T14:00","v":-5.3},
{"s":"outflow","g":2,"t":"2019-07-10T07:00","v":-1},{"s":"outflow","g":2,"t":"2019-07-11T00:00","v":-5},{"s":"outflow","g":2,"t":"2019-07-11T10:00","v":-8},{"s":"outflow","g":2,"t":"2019-07-12T00:00","v":-13},{"s":"outflow","g":2,"t":"2019-07-12T22:00","v":-18},{"s":"outflow","g":2,"t":"2019-07-13T12:00","v":-15},{"s":"outflow","g":2,"t":"2019-07-14T00:00","v":-10},{"s":"outflow","g":2,"t":"2019-07-14T07:00","v":-5.3},
{"s":"outflow","g":3,"t":"2019-07-16T02:00","v":-1},{"s":"outflow","g":3,"t":"2019-07-16T12:00","v":-6},{"s":"outflow","g":3,"t":"2019-07-17T00:00","v":-12.6},{"s":"outflow","g":3,"t":"2019-07-17T12:00","v":-13.5},{"s":"outflow","g":3,"t":"2019-07-18T05:00","v":-14.3},{"s":"outflow","g":3,"t":"2019-07-18T14:00","v":-12.6},{"s":"outflow","g":3,"t":"2019-07-19T07:00","v":-15},{"s":"outflow","g":3,"t":"2019-07-20T02:00","v":-18},{"s":"outflow","g":3,"t":"2019-07-20T19:00","v":-14},{"s":"outflow","g":3,"t":"2019-07-21T10:00","v":-12},{"s":"outflow","g":3,"t":"2019-07-22T00:00","v":-11},{"s":"outflow","g":3,"t":"2019-07-22T19:00","v":-12.3},{"s":"outflow","g":3,"t":"2019-07-23T14:00","v":-11.5},{"s":"outflow","g":3,"t":"2019-07-24T14:00","v":-9.3},{"s":"outflow","g":3,"t":"2019-07-25T10:00","v":-11},{"s":"outflow","g":3,"t":"2019-07-26T02:00","v":-8.5},{"s":"outflow","g":3,"t":"2019-07-26T12:00","v":-6},{"s":"outflow","g":3,"t":"2019-07-26T22:00","v":-2},{"s":"outflow","g":3,"t":"2019-07-27T12:00","v":-1},{"s":"outflow","g":3,"t":"2019-07-28T00:00","v":-4},{"s":"outflow","g":3,"t":"2019-07-28T12:00","v":-4.5},{"s":"outflow","g":3,"t":"2019-07-29T00:00","v":-3},{"s":"outflow","g":3,"t":"2019-07-29T07:00","v":-4.3},{"s":"outflow","g":3,"t":"2019-07-30T00:00","v":-6},{"s":"outflow","g":3,"t":"2019-07-30T14:00","v":-5},{"s":"outflow","g":3,"t":"2019-07-31T02:00","v":-3},{"s":"outflow","g":3,"t":"2019-07-31T19:00","v":-5},{"s":"outflow","g":3,"t":"2019-08-01T05:00","v":-4.3},
{"s":"outflow","g":4,"t":"2019-08-02T12:00","v":-4.3},{"s":"outflow","g":4,"t":"2019-08-03T10:00","v":-12.6},{"s":"outflow","g":4,"t":"2019-08-04T12:00","v":-14.3},{"s":"outflow","g":4,"t":"2019-08-05T14:00","v":-12},{"s":"outflow","g":4,"t":"2019-08-07T10:00","v":-11},{"s":"outflow","g":4,"t":"2019-08-09T05:00","v":-11},{"s":"outflow","g":4,"t":"2019-08-11T00:00","v":-9.3},{"s":"outflow","g":4,"t":"2019-08-11T19:00","v":-4.3},{"s":"outflow","g":4,"t":"2019-08-12T10:00","v":-1},{"s":"outflow","g":4,"t":"2019-08-13T05:00","v":-6},{"s":"outflow","g":4,"t":"2019-08-14T07:00","v":-12.6},{"s":"outflow","g":4,"t":"2019-08-15T02:00","v":-4.3},
{"s":"Q mean","g":1,"t":"2019-07-05T19:00","v":1.7},{"s":"Q mean","g":1,"t":"2019-07-06T12:00","v":4},{"s":"Q mean","g":1,"t":"2019-07-07T07:00","v":6.7},{"s":"Q mean","g":1,"t":"2019-07-08T00:00","v":8},{"s":"Q mean","g":1,"t":"2019-07-08T17:00","v":13},{"s":"Q mean","g":1,"t":"2019-07-09T02:00","v":11},{"s":"Q mean","g":1,"t":"2019-07-09T14:00","v":6},{"s":"Q mean","g":1,"t":"2019-07-10T07:00","v":0.7},{"s":"Q mean","g":1,"t":"2019-07-10T19:00","v":0.5},{"s":"Q mean","g":1,"t":"2019-07-11T12:00","v":3},{"s":"Q mean","g":1,"t":"2019-07-12T07:00","v":3.5},{"s":"Q mean","g":1,"t":"2019-07-13T12:00","v":4},{"s":"Q mean","g":1,"t":"2019-07-14T05:00","v":6.5},{"s":"Q mean","g":1,"t":"2019-07-14T17:00","v":5},{"s":"Q mean","g":1,"t":"2019-07-15T05:00","v":2.3},{"s":"Q mean","g":1,"t":"2019-07-16T00:00","v":1.5},{"s":"Q mean","g":1,"t":"2019-07-16T12:00","v":1.3},{"s":"Q mean","g":1,"t":"2019-07-17T12:00","v":2.5},{"s":"Q mean","g":1,"t":"2019-07-18T12:00","v":3.4},{"s":"Q mean","g":1,"t":"2019-07-20T02:00","v":5.7},{"s":"Q mean","g":1,"t":"2019-07-21T00:00","v":4},{"s":"Q mean","g":1,"t":"2019-07-21T14:00","v":0.7},{"s":"Q mean","g":1,"t":"2019-07-22T12:00","v":0.7},{"s":"Q mean","g":1,"t":"2019-07-23T07:00","v":2},{"s":"Q mean","g":1,"t":"2019-07-24T17:00","v":3.4},{"s":"Q mean","g":1,"t":"2019-07-26T00:00","v":4},{"s":"Q mean","g":1,"t":"2019-07-27T00:00","v":3.4},{"s":"Q mean","g":1,"t":"2019-07-27T12:00","v":1.5},{"s":"Q mean","g":1,"t":"2019-07-27T22:00","v":-0.7},{"s":"Q mean","g":1,"t":"2019-07-28T12:00","v":-1.7},{"s":"Q mean","g":1,"t":"2019-07-29T00:00","v":-0.5},{"s":"Q mean","g":1,"t":"2019-07-29T07:00","v":1.7},{"s":"Q mean","g":1,"t":"2019-07-30T00:00","v":2.5},{"s":"Q mean","g":1,"t":"2019-07-31T02:00","v":3.4},{"s":"Q mean","g":1,"t":"2019-08-01T12:00","v":2.8},{"s":"Q mean","g":1,"t":"2019-08-02T07:00","v":2.4},{"s":"Q mean","g":1,"t":"2019-08-04T12:00","v":1.3},{"s":"Q mean","g":1,"t":"2019-08-06T00:00","v":1.5},{"s":"Q mean","g":1,"t":"2019-08-08T00:00","v":1.3},{"s":"Q mean","g":1,"t":"2019-08-09T12:00","v":2},{"s":"Q mean","g":1,"t":"2019-08-10T17:00","v":2.4},{"s":"Q mean","g":1,"t":"2019-08-11T19:00","v":0.7},{"s":"Q mean","g":1,"t":"2019-08-12T22:00","v":-0.3},{"s":"Q mean","g":1,"t":"2019-08-13T12:00","v":0.2},{"s":"Q mean","g":1,"t":"2019-08-14T00:00","v":1.3},{"s":"Q mean","g":1,"t":"2019-08-15T02:00","v":2.4}],
"flow":[{"s":"BO+IM","g":1,"t":"2019-07-01T11:00","v":5.2},{"s":"BO+IM","g":1,"t":"2019-07-02T17:00","v":4.8},{"s":"BO+IM","g":1,"t":"2019-07-04T00:00","v":5.0},{"s":"BO+IM","g":1,"t":"2019-07-05T05:00","v":4.6},{"s":"BO+IM","g":1,"t":"2019-07-06T05:00","v":5.7},{"s":"BO+IM","g":1,"t":"2019-07-07T05:00","v":5.5},{"s":"BO+IM","g":1,"t":"2019-07-08T10:00","v":5.9},{"s":"BO+IM","g":1,"t":"2019-07-09T07:00","v":5.2},{"s":"BO+IM","g":1,"t":"2019-07-10T05:00","v":5.8},{"s":"BO+IM","g":1,"t":"2019-07-11T02:00","v":4.5},{"s":"BO+IM","g":1,"t":"2019-07-12T00:00","v":4.8},{"s":"BO+IM","g":1,"t":"2019-07-13T05:00","v":4.6},{"s":"BO+IM","g":1,"t":"2019-07-14T10:00","v":4.4},{"s":"BO+IM","g":1,"t":"2019-07-15T12:00","v":4.1},{"s":"BO+IM","g":1,"t":"2019-07-16T12:00","v":4.2},{"s":"BO+IM","g":1,"t":"2019-07-17T10:00","v":5.1},{"s":"BO+IM","g":1,"t":"2019-07-18T07:00","v":3.3},{"s":"BO+IM","g":1,"t":"2019-07-19T12:00","v":3.2},{"s":"BO+IM","g":1,"t":"2019-07-20T12:00","v":3.2},{"s":"BO+IM","g":1,"t":"2019-07-21T12:00","v":3.4},{"s":"BO+IM","g":1,"t":"2019-07-22T12:00","v":3.2},{"s":"BO+IM","g":1,"t":"2019-07-23T07:00","v":2.2},{"s":"BO+IM","g":1,"t":"2019-07-24T02:00","v":0.9},{"s":"BO+IM","g":1,"t":"2019-07-24T14:00","v":0.2},{"s":"BO+IM","g":1,"t":"2019-07-25T12:00","v":0.1},{"s":"BO+IM","g":1,"t":"2019-07-27T12:00","v":0.15},{"s":"BO+IM","g":1,"t":"2019-07-28T07:00","v":0.4},{"s":"BO+IM","g":1,"t":"2019-07-29T12:00","v":0.5},{"s":"BO+IM","g":1,"t":"2019-07-30T12:00","v":0.8},{"s":"BO+IM","g":1,"t":"2019-07-31T02:00","v":1.2},{"s":"BO+IM","g":1,"t":"2019-07-31T19:00","v":0.2},{"s":"BO+IM","g":1,"t":"2019-08-01T12:00","v":0.1},{"s":"BO+IM","g":1,"t":"2019-08-10T00:00","v":0.1},{"s":"BO+IM","g":1,"t":"2019-08-11T00:00","v":0.8},{"s":"BO+IM","g":1,"t":"2019-08-11T19:00","v":0.1},{"s":"BO+IM","g":1,"t":"2019-08-14T22:00","v":0.2},{"s":"BO+IM","g":1,"t":"2019-08-16T10:00","v":2.0},
{"s":"IM","g":1,"t":"2019-07-01T11:00","v":1.5},{"s":"IM","g":1,"t":"2019-07-02T12:00","v":2.3},{"s":"IM","g":1,"t":"2019-07-03T14:00","v":1.5},{"s":"IM","g":1,"t":"2019-07-05T05:00","v":1.6},{"s":"IM","g":1,"t":"2019-07-06T05:00","v":2.2},{"s":"IM","g":1,"t":"2019-07-06T19:00","v":2.0},{"s":"IM","g":1,"t":"2019-07-07T17:00","v":2.7},{"s":"IM","g":1,"t":"2019-07-08T19:00","v":1.8},{"s":"IM","g":1,"t":"2019-07-10T05:00","v":1.6},{"s":"IM","g":1,"t":"2019-07-11T10:00","v":1.6},{"s":"IM","g":1,"t":"2019-07-12T07:00","v":2.7},{"s":"IM","g":1,"t":"2019-07-14T05:00","v":1.5},{"s":"IM","g":1,"t":"2019-07-15T05:00","v":1.5},{"s":"IM","g":1,"t":"2019-07-16T05:00","v":1.5},{"s":"IM","g":1,"t":"2019-07-17T05:00","v":3.3},{"s":"IM","g":1,"t":"2019-07-18T07:00","v":0.1},
{"s":"IM","g":2,"t":"2019-07-27T19:00","v":0.1},{"s":"IM","g":2,"t":"2019-07-29T00:00","v":0.3},{"s":"IM","g":2,"t":"2019-07-30T05:00","v":0.5},{"s":"IM","g":2,"t":"2019-07-31T00:00","v":1.0},{"s":"IM","g":2,"t":"2019-07-31T05:00","v":0.8},
{"s":"BO","g":1,"t":"2019-07-01T11:00","v":3.6},{"s":"BO","g":1,"t":"2019-07-02T17:00","v":3.3},{"s":"BO","g":1,"t":"2019-07-04T00:00","v":3.4},{"s":"BO","g":1,"t":"2019-07-05T07:00","v":3.0},{"s":"BO","g":1,"t":"2019-07-06T19:00","v":3.0},{"s":"BO","g":1,"t":"2019-07-08T05:00","v":3.4},{"s":"BO","g":1,"t":"2019-07-09T12:00","v":3.4},{"s":"BO","g":1,"t":"2019-07-10T19:00","v":3.0},{"s":"BO","g":1,"t":"2019-07-12T07:00","v":3.0},{"s":"BO","g":1,"t":"2019-07-14T00:00","v":2.8},{"s":"BO","g":1,"t":"2019-07-15T12:00","v":2.8},{"s":"BO","g":1,"t":"2019-07-16T17:00","v":2.9},{"s":"BO","g":1,"t":"2019-07-18T00:00","v":3.2},{"s":"BO","g":1,"t":"2019-07-20T00:00","v":3.2},{"s":"BO","g":1,"t":"2019-07-22T00:00","v":3.2},{"s":"BO","g":1,"t":"2019-07-22T19:00","v":3.0},{"s":"BO","g":1,"t":"2019-07-23T10:00","v":2.2},{"s":"BO","g":1,"t":"2019-07-24T02:00","v":0.9},{"s":"BO","g":1,"t":"2019-07-24T14:00","v":0.2},{"s":"BO","g":1,"t":"2019-07-25T00:00","v":0.1},{"s":"BO","g":1,"t":"2019-08-16T10:00","v":0.1}]
},
"vconcat":[
{"width":423,"height":37,
"title":{"text":"(a)","orient":"left","angle":0,"offset":10,"fontSize":11,"fontWeight":"normal","color":"#222222"},
"layer":[
{"data":{"name":"dir"},"mark":{"type":"square","size":5,"color":"#0000ff","opacity":1},
"encoding":{"x":{"field":"t","type":"temporal","scale":{"domain":[{"year":2019,"month":7,"date":1,"hours":11},{"year":2019,"month":8,"date":16,"hours":10}]},"axis":null},
"y":{"field":"d","type":"quantitative","scale":{"domain":[0,360]},"axis":{"orient":"right","values":[0,180,360],"labelColor":"#0000ff","tickColor":"#0000ff","grid":false,"title":null}}}},
{"data":{"name":"wind"},"mark":{"type":"line","color":"#000000","strokeWidth":1.2},
"encoding":{"x":{"field":"t","type":"temporal","scale":{"domain":[{"year":2019,"month":7,"date":1,"hours":11},{"year":2019,"month":8,"date":16,"hours":10}]},"axis":{"orient":"bottom","labels":false,"tickCount":"day","tickSize":-2,"grid":false,"title":"Air temperature","titleFontSize":9.5,"titleY":4.5,"titleBaseline":"middle"}},
"y":{"field":"v","type":"quantitative","scale":{"domain":[0,30]},"axis":{"orient":"left","values":[0,10,20,30],"title":["Vel max","(m/s)"],"titleFontSize":11,"titlePadding":3}}}},
{"data":{"name":"ev"},"mark":{"type":"rule","color":"#222222","strokeWidth":1.2,"y2Offset":9.5},"encoding":{"x":{"field":"s","type":"temporal","scale":{"domain":[{"year":2019,"month":7,"date":1,"hours":11},{"year":2019,"month":8,"date":16,"hours":10}]},"axis":{"orient":"top","labels":false,"grid":true,"tickCount":"week","title":"Wind (Wind dir)","titleFontSize":9.5,"titleY":-7.5,"titleBaseline":"middle"}},"y":{"value":0},"y2":{"value":"height"}}},
{"data":{"name":"ev"},"mark":{"type":"rule","color":"#222222","strokeWidth":1.2,"y2Offset":9.5},"encoding":{"x":{"field":"e","type":"temporal","axis":null},"y":{"value":0},"y2":{"value":"height"}}},
{"data":{"name":"ev"},"mark":{"type":"rule","color":"#222222","strokeWidth":1.2},"encoding":{"x":{"field":"s","type":"temporal","axis":null},"x2":{"field":"e"},"y":{"datum":30,"type":"quantitative","scale":{"domain":[0,30]},"axis":null}}},
{"data":{"name":"ev"},"mark":{"type":"text","fontSize":7,"align":"left","baseline":"bottom","dy":-2,"color":"#111111"},"encoding":{"x":{"field":"lt","type":"temporal","axis":null},"y":{"datum":30,"type":"quantitative","scale":{"domain":[0,30]},"axis":null},"text":{"field":"lab"}}}
],
"resolve":{"scale":{"y":"independent"},"axis":{"x":"independent","y":"independent"}}},
{"width":423,"height":30,
"title":{"text":"(b)","orient":"left","angle":0,"offset":24,"fontSize":11,"fontWeight":"normal","color":"#222222"},
"layer":[
{"data":{"name":"air"},"mark":{"type":"line","color":"#1a1aff","strokeWidth":1.3,"interpolate":"monotone"},
"encoding":{"x":{"field":"t","type":"temporal","scale":{"domain":[{"year":2019,"month":7,"date":1,"hours":11},{"year":2019,"month":8,"date":16,"hours":10}]},"axis":{"orient":"bottom","labels":false,"title":null,"tickCount":"day","tickSize":-2,"grid":false}},
"y":{"field":"a","type":"quantitative","scale":{"domain":[16,35]},"axis":{"values":[20,30],"title":"°C","titleFontSize":8,"labelFontSize":7,"labelFontWeight":"normal"}}}},
{"data":{"name":"ev"},"mark":{"type":"rule","color":"#222222","strokeWidth":1.2},"encoding":{"x":{"field":"s","type":"temporal","axis":{"orient":"top","labels":false,"grid":true,"tickCount":"week","title":null}},"y":{"value":-1},"y2":{"value":"height"}}},
{"data":{"name":"ev"},"mark":{"type":"rule","color":"#222222","strokeWidth":1.2},"encoding":{"x":{"field":"e","type":"temporal","axis":null},"y":{"value":-1},"y2":{"value":"height"}}}
],
"resolve":{"axis":{"x":"independent"}}},
{"width":423,"height":34,
"title":{"text":"(c)","orient":"left","angle":0,"offset":16,"fontSize":11,"fontWeight":"normal","color":"#222222"},
"layer":[
{"data":{"name":"bot"},"mark":{"type":"line","strokeWidth":1.4},
"encoding":{"x":{"field":"t","type":"temporal","scale":{"domain":[{"year":2019,"month":7,"date":1,"hours":11},{"year":2019,"month":8,"date":16,"hours":10}]},"axis":{"orient":"bottom","labels":false,"tickCount":"day","tickSize":-2,"grid":false,"title":"AQDP eastward currents. Mouth","titleFontSize":9.5,"titleY":6,"titleBaseline":"middle"}},
"y":{"field":"v","type":"quantitative","scale":{"domain":[20,30]},"axis":{"values":[20,25,30],"title":"°C","titleFontSize":11,"labelFontWeight":"normal"}},
"color":{"field":"s","type":"nominal","scale":{"domain":["mouth","outside"],"range":["#1f78c8","#ee2222"]},"legend":{"title":null,"orient":"right","offset":3}}}},
{"data":{"name":"ev"},"mark":{"type":"rule","color":"#222222","strokeWidth":1.2,"y2Offset":11},"encoding":{"x":{"field":"s","type":"temporal","axis":{"orient":"top","labels":false,"grid":true,"tickCount":"week","title":"Temperature at bottom","titleFontSize":9.5,"titleY":-6.3,"titleBaseline":"middle"}},"y":{"value":-16},"y2":{"value":"height"}}},
{"data":{"name":"ev"},"mark":{"type":"rule","color":"#222222","strokeWidth":1.2,"y2Offset":11},"encoding":{"x":{"field":"e","type":"temporal","axis":null},"y":{"value":-16},"y2":{"value":"height"}}}
],
"resolve":{"axis":{"x":"independent"}}},
{"width":423,"height":33,
"title":{"text":"(d)","orient":"left","angle":0,"offset":26,"fontSize":11,"fontWeight":"normal","color":"#222222"},
"layer":[
{"data":{"name":"adcp"},"mark":{"type":"rect"},
"encoding":{"x":{"field":"t","timeUnit":"yearmonthdate","type":"temporal","scale":{"domain":[{"year":2019,"month":7,"date":1,"hours":11},{"year":2019,"month":8,"date":16,"hours":10}]},"axis":{"orient":"bottom","labels":false,"title":null,"tickCount":"day","tickSize":-2,"grid":false}},
"y":{"field":"z","type":"quantitative","scale":{"domain":[0.6,3.5],"reverse":true},"axis":{"values":[1,2,3],"title":"m","titleFontSize":11}},
"y2":{"field":"z2"},
"color":{"field":"u","type":"quantitative","scale":{"domain":[-0.1,0,0.1],"range":["#0000ff","#ffffff","#ff0000"],"clamp":true},"legend":{"title":"m/s","titleOrient":"right","orient":"right","offset":7,"gradientLength":33,"gradientThickness":8,"values":[-0.1,0,0.1],"format":".1~f","labelFontSize":8,"titleFontSize":9,"titleFontWeight":"normal","gradientStrokeWidth":0,"padding":0}}}},
{"data":{"name":"ev"},"mark":{"type":"rule","color":"#222222","strokeWidth":1.2,"y2Offset":4.5},"encoding":{"x":{"field":"s","type":"temporal","axis":{"orient":"top","labels":false,"grid":true,"tickCount":"week","title":null}},"y":{"value":0},"y2":{"value":"height"}}},
{"data":{"name":"ev"},"mark":{"type":"rule","color":"#222222","strokeWidth":1.2,"y2Offset":4.5},"encoding":{"x":{"field":"e","type":"temporal","axis":null},"y":{"value":0},"y2":{"value":"height"}}}
],
"resolve":{"axis":{"x":"independent"}}},
{"width":423,"height":41,
"title":{"text":"(e)","orient":"left","angle":0,"offset":16,"fontSize":11,"fontWeight":"normal","color":"#222222"},
"layer":[
{"data":{"name":"q"},"mark":{"type":"rule","color":"#999999","strokeWidth":2.5},"encoding":{"y":{"datum":0,"type":"quantitative"}}},
{"data":{"name":"q"},"mark":{"type":"line","interpolate":"monotone"},
"encoding":{"x":{"field":"t","type":"temporal","scale":{"domain":[{"year":2019,"month":7,"date":1,"hours":11},{"year":2019,"month":8,"date":16,"hours":10}]},"axis":{"orient":"bottom","labels":false,"title":null,"tickCount":"day","tickSize":-2,"grid":false}},
"y":{"field":"v","type":"quantitative","scale":{"domain":[-20,20]},"axis":{"values":[-20,-10,0,10,20],"labelExpr":"datum.value % 20 === 0 ? datum.label : ''","title":"m³/s","titleFontSize":11}},
"color":{"field":"s","type":"nominal","scale":{"domain":["inflow","outflow","Q mean"],"range":["#e05555","#5a5ae8","#000000"]},"legend":{"title":null,"orient":"right","offset":5}},
"strokeWidth":{"field":"s","type":"nominal","scale":{"domain":["inflow","outflow","Q mean"],"range":[1,1,1.7]},"legend":null},
"detail":{"field":"g"}}},
{"data":{"name":"ev"},"mark":{"type":"rule","color":"#222222","strokeWidth":1.2,"y2Offset":7},"encoding":{"x":{"field":"s","type":"temporal","axis":{"orient":"top","labels":false,"grid":true,"tickCount":"week","title":"Q mouth","titleFontSize":9.5,"titleY":-6,"titleBaseline":"middle"}},"y":{"value":-10},"y2":{"value":"height"}}},
{"data":{"name":"ev"},"mark":{"type":"rule","color":"#222222","strokeWidth":1.2,"y2Offset":7},"encoding":{"x":{"field":"e","type":"temporal","axis":null},"y":{"value":-10},"y2":{"value":"height"}}}
],
"resolve":{"axis":{"x":"independent"}}},
{"width":423,"height":44,
"title":{"text":"(f)","orient":"left","angle":0,"offset":20,"fontSize":11,"fontWeight":"normal","color":"#222222"},
"layer":[
{"data":{"name":"flow"},"mark":{"type":"line","strokeWidth":1.5},
"encoding":{"x":{"field":"t","type":"temporal","scale":{"domain":[{"year":2019,"month":7,"date":1,"hours":11},{"year":2019,"month":8,"date":16,"hours":10}]},"axis":{"orient":"bottom","title":null,"tickCount":"week","grid":true,"format":"%d-%b","labelFontSize":9}},
"y":{"field":"v","type":"quantitative","scale":{"domain":[0,10]},"axis":{"values":[0,2,4,6,8,10],"title":"m³/s","titleFontSize":11}},
"color":{"field":"s","type":"nominal","scale":{"domain":["BO+IM","IM","BO"],"range":["#f5cf00","#1f78c8","#ff1a1a"]},"legend":{"title":null,"orient":"right","offset":5}},
"detail":{"field":"g"}}},
{"data":{"name":"ev"},"mark":{"type":"rule","color":"#222222","strokeWidth":1.2},"encoding":{"x":{"field":"s","type":"temporal","axis":{"orient":"top","labels":false,"grid":false,"tickCount":"day","tickSize":-2,"title":"Channel flow","titleFontSize":9.5,"titleY":-7,"titleBaseline":"middle"}},"y":{"value":-12},"y2":{"value":"height"}}},
{"data":{"name":"ev"},"mark":{"type":"rule","color":"#222222","strokeWidth":1.2},"encoding":{"x":{"field":"e","type":"temporal","axis":null},"y":{"value":-12},"y2":{"value":"height"}}},
{"data":{"name":"ev"},"mark":{"type":"rule","color":"#222222","strokeWidth":1.2},"encoding":{"x":{"field":"s","type":"temporal","axis":null},"x2":{"field":"e"},"y":{"value":"height"}}}
],
"resolve":{"axis":{"x":"independent"}}}
]}
